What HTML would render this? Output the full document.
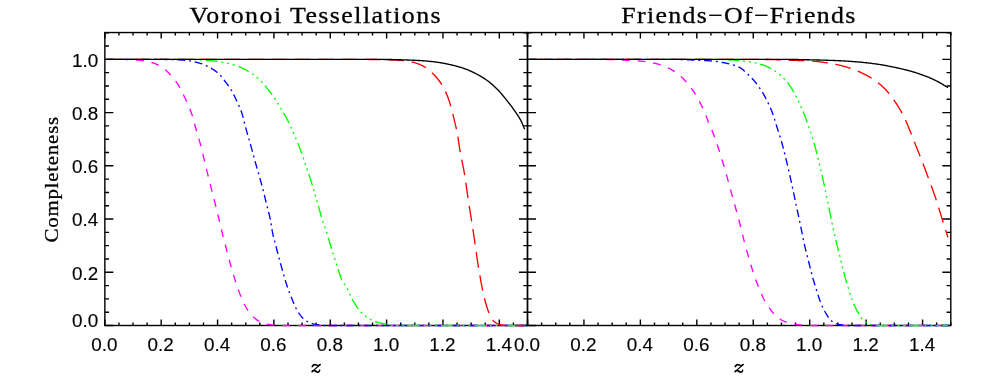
<!DOCTYPE html>
<html><head><meta charset="utf-8"><title>Completeness</title>
<style>
html,body{margin:0;padding:0;background:#fff;}
body{width:981px;height:392px;overflow:hidden;}
svg{display:block;}
text{font-family:"Liberation Serif",serif;fill:#000;stroke:#000;stroke-width:0.3px;}
text.n{font-family:"Liberation Sans",sans-serif;stroke-width:0.15px;}
</style></head><body>
<svg width="981" height="392" viewBox="0 0 981 392">
<rect width="981" height="392" fill="#fff"/>
<rect x="104.85" y="32.55" width="422.65" height="292.95" fill="none" stroke="#000" stroke-width="1.4"/>
<path d="M104.85,325.50v-6.0M104.85,32.55v6.0M118.94,325.50v-3.0M118.94,32.55v3.0M133.03,325.50v-3.0M133.03,32.55v3.0M147.12,325.50v-3.0M147.12,32.55v3.0M161.20,325.50v-6.0M161.20,32.55v6.0M175.29,325.50v-3.0M175.29,32.55v3.0M189.38,325.50v-3.0M189.38,32.55v3.0M203.47,325.50v-3.0M203.47,32.55v3.0M217.56,325.50v-6.0M217.56,32.55v6.0M231.64,325.50v-3.0M231.64,32.55v3.0M245.73,325.50v-3.0M245.73,32.55v3.0M259.82,325.50v-3.0M259.82,32.55v3.0M273.91,325.50v-6.0M273.91,32.55v6.0M288.00,325.50v-3.0M288.00,32.55v3.0M302.09,325.50v-3.0M302.09,32.55v3.0M316.17,325.50v-3.0M316.17,32.55v3.0M330.26,325.50v-6.0M330.26,32.55v6.0M344.35,325.50v-3.0M344.35,32.55v3.0M358.44,325.50v-3.0M358.44,32.55v3.0M372.53,325.50v-3.0M372.53,32.55v3.0M386.62,325.50v-6.0M386.62,32.55v6.0M400.71,325.50v-3.0M400.71,32.55v3.0M414.79,325.50v-3.0M414.79,32.55v3.0M428.88,325.50v-3.0M428.88,32.55v3.0M442.97,325.50v-6.0M442.97,32.55v6.0M457.06,325.50v-3.0M457.06,32.55v3.0M471.15,325.50v-3.0M471.15,32.55v3.0M485.24,325.50v-3.0M485.24,32.55v3.0M499.32,325.50v-6.0M499.32,32.55v6.0M513.41,325.50v-3.0M513.41,32.55v3.0M527.50,325.50v-3.0M527.50,32.55v3.0M104.85,325.50h8.5M527.50,325.50h-8.5M104.85,312.19h4.2M527.50,312.19h-4.2M104.85,298.88h4.2M527.50,298.88h-4.2M104.85,285.58h4.2M527.50,285.58h-4.2M104.85,272.27h8.5M527.50,272.27h-8.5M104.85,258.96h4.2M527.50,258.96h-4.2M104.85,245.66h4.2M527.50,245.66h-4.2M104.85,232.35h4.2M527.50,232.35h-4.2M104.85,219.04h8.5M527.50,219.04h-8.5M104.85,205.73h4.2M527.50,205.73h-4.2M104.85,192.43h4.2M527.50,192.43h-4.2M104.85,179.12h4.2M527.50,179.12h-4.2M104.85,165.81h8.5M527.50,165.81h-8.5M104.85,152.50h4.2M527.50,152.50h-4.2M104.85,139.19h4.2M527.50,139.19h-4.2M104.85,125.89h4.2M527.50,125.89h-4.2M104.85,112.58h8.5M527.50,112.58h-8.5M104.85,99.27h4.2M527.50,99.27h-4.2M104.85,85.97h4.2M527.50,85.97h-4.2M104.85,72.66h4.2M527.50,72.66h-4.2M104.85,59.35h8.5M527.50,59.35h-8.5M104.85,46.04h4.2M527.50,46.04h-4.2M104.85,32.74h4.2M527.50,32.74h-4.2" stroke="#000" stroke-width="1.4" fill="none"/>
<path d="M104.85,59.35 L105.55,59.35 L106.25,59.35 L106.95,59.35 L107.65,59.35 L108.35,59.35 L109.06,59.35 L109.76,59.36 L110.46,59.36 L111.16,59.36 L111.86,59.36 L112.56,59.36 L113.26,59.37 L113.96,59.37 L114.66,59.37 L115.36,59.38 L116.06,59.38 L116.77,59.38 L117.47,59.39 L118.17,59.39 L118.87,59.40 L119.57,59.40 L120.27,59.41 L120.97,59.41 L121.67,59.42 L122.37,59.42 L123.07,59.43 L123.77,59.44 L124.47,59.44 L125.18,59.45 L125.88,59.46 L126.58,59.47 L127.28,59.49 L127.98,59.51 L128.68,59.54 L129.38,59.57 L130.08,59.60 L130.78,59.63 L131.48,59.67 L132.18,59.71 L132.89,59.75 L133.59,59.80 L134.29,59.84 L134.99,59.89 L135.69,59.94 L136.39,60.00 L137.09,60.05 L137.79,60.10 L138.49,60.16 L139.19,60.23 L139.89,60.31 L140.60,60.39 L141.30,60.48 L142.00,60.57 L142.70,60.68 L143.40,60.79 L144.10,60.90 L144.80,61.02 L145.50,61.15 L146.20,61.28 L146.90,61.43 L147.60,61.57 L148.31,61.72 L149.01,61.88 L149.71,62.05 L150.41,62.22 L151.11,62.39 L151.81,62.57 L152.51,62.76 L153.21,62.96 L153.91,63.19 L154.61,63.44 L155.31,63.72 L156.01,64.02 L156.72,64.34 L157.42,64.68 L158.12,65.04 L158.82,65.41 L159.52,65.80 L160.22,66.21 L160.92,66.63 L161.62,67.06 L162.32,67.51 L163.02,67.97 L163.72,68.49 L164.43,69.05 L165.13,69.65 L165.83,70.28 L166.53,70.95 L167.23,71.63 L167.93,72.34 L168.63,73.07 L169.33,73.80 L170.03,74.53 L170.73,75.28 L171.43,76.04 L172.14,76.82 L172.84,77.62 L173.54,78.45 L174.24,79.30 L174.94,80.19 L175.64,81.11 L176.34,82.07 L177.04,83.07 L177.74,84.12 L178.44,85.25 L179.14,86.46 L179.85,87.74 L180.55,89.07 L181.25,90.45 L181.95,91.85 L182.65,93.27 L183.35,94.69 L184.05,96.10 L184.75,97.52 L185.45,98.96 L186.15,100.43 L186.85,101.93 L187.55,103.48 L188.26,105.08 L188.96,106.75 L189.66,108.46 L190.36,110.23 L191.06,112.09 L191.76,114.05 L192.46,116.13 L193.16,118.42 L193.86,120.95 L194.56,123.59 L195.26,126.23 L195.97,128.76 L196.67,131.20 L197.37,133.60 L198.07,135.99 L198.77,138.38 L199.47,140.83 L200.17,143.34 L200.87,145.96 L201.57,148.71 L202.27,151.57 L202.97,154.49 L203.68,157.45 L204.38,160.41 L205.08,163.32 L205.78,166.22 L206.48,169.13 L207.18,172.04 L207.88,174.93 L208.58,177.80 L209.28,180.63 L209.98,183.40 L210.68,186.13 L211.39,188.84 L212.09,191.53 L212.79,194.24 L213.49,196.97 L214.19,199.73 L214.89,202.50 L215.59,205.28 L216.29,208.09 L216.99,210.92 L217.69,213.80 L218.39,216.74 L219.09,219.74 L219.80,222.77 L220.50,225.77 L221.20,228.73 L221.90,231.60 L222.60,234.41 L223.30,237.16 L224.00,239.89 L224.70,242.58 L225.40,245.27 L226.10,247.94 L226.80,250.62 L227.51,253.32 L228.21,256.01 L228.91,258.68 L229.61,261.32 L230.31,263.90 L231.01,266.41 L231.71,268.85 L232.41,271.24 L233.11,273.59 L233.81,275.90 L234.51,278.15 L235.22,280.35 L235.92,282.50 L236.62,284.59 L237.32,286.66 L238.02,288.70 L238.72,290.70 L239.42,292.63 L240.12,294.48 L240.82,296.23 L241.52,297.88 L242.22,299.49 L242.93,301.06 L243.63,302.58 L244.33,304.05 L245.03,305.45 L245.73,306.78 L246.43,308.03 L247.13,309.18 L247.83,310.24 L248.53,311.25 L249.23,312.21 L249.93,313.12 L250.63,313.98 L251.34,314.80 L252.04,315.57 L252.74,316.29 L253.44,316.96 L254.14,317.60 L254.84,318.21 L255.54,318.80 L256.24,319.37 L256.94,319.90 L257.64,320.40 L258.34,320.86 L259.05,321.27 L259.75,321.63 L260.45,321.95 L261.15,322.25 L261.85,322.53 L262.55,322.81 L263.25,323.06 L263.95,323.30 L264.65,323.52 L265.35,323.72 L266.05,323.91 L266.76,324.07 L267.46,324.21 L268.16,324.32 L268.86,324.43 L269.56,324.54 L270.26,324.65 L270.96,324.75 L271.66,324.85 L272.36,324.94 L273.06,325.03 L273.76,325.11 L274.47,325.19 L275.17,325.26 L275.87,325.32 L276.57,325.37 L277.27,325.42 L277.97,325.45 L278.67,325.48 L279.37,325.50 L280.07,325.50 L280.77,325.50 L281.47,325.50 L282.17,325.50 L282.88,325.50 L283.58,325.50 L284.28,325.50 L284.98,325.50 L285.68,325.50 L286.38,325.50 L287.08,325.50 L287.78,325.50 L288.48,325.50 L289.18,325.50 L289.88,325.50 L290.59,325.50 L291.29,325.50 L291.99,325.50 L292.69,325.50 L293.39,325.50 L294.09,325.50 L294.79,325.50 L295.49,325.50 L296.19,325.50 L296.89,325.50 L297.59,325.50 L298.30,325.50 L299.00,325.50 L299.70,325.50 L300.40,325.50 L301.10,325.50 L301.80,325.50 L302.50,325.50 L303.20,325.50 L303.90,325.50 L304.60,325.50 L305.30,325.50 L306.01,325.50 L306.71,325.50 L307.41,325.50 L308.11,325.50 L308.81,325.50 L309.51,325.50 L310.21,325.50 L310.91,325.50 L311.61,325.50 L312.31,325.50 L313.01,325.50 L313.71,325.50 L314.42,325.50 L315.12,325.50 L315.82,325.50 L316.52,325.50 L317.22,325.50 L317.92,325.50 L318.62,325.50 L319.32,325.50 L320.02,325.50 L320.72,325.50 L321.42,325.50 L322.13,325.50 L322.83,325.50 L323.53,325.50 L324.23,325.50 L324.93,325.50 L325.63,325.50 L326.33,325.50 L327.03,325.50 L327.73,325.50 L328.43,325.50 L329.13,325.50 L329.84,325.50 L330.54,325.50 L331.24,325.50 L331.94,325.50 L332.64,325.50 L333.34,325.50 L334.04,325.50 L334.74,325.50 L335.44,325.50 L336.14,325.50 L336.84,325.50 L337.55,325.50 L338.25,325.50 L338.95,325.50 L339.65,325.50 L340.35,325.50 L341.05,325.50 L341.75,325.50 L342.45,325.50 L343.15,325.50 L343.85,325.50 L344.55,325.50 L345.25,325.50 L345.96,325.50 L346.66,325.50 L347.36,325.50 L348.06,325.50 L348.76,325.50 L349.46,325.50 L350.16,325.50 L350.86,325.50 L351.56,325.50 L352.26,325.50 L352.96,325.50 L353.67,325.50 L354.37,325.50 L355.07,325.50 L355.77,325.50 L356.47,325.50 L357.17,325.50 L357.87,325.50 L358.57,325.50 L359.27,325.50 L359.97,325.50 L360.67,325.50 L361.38,325.50 L362.08,325.50 L362.78,325.50 L363.48,325.50 L364.18,325.50 L364.88,325.50 L365.58,325.50 L366.28,325.50 L366.98,325.50 L367.68,325.50 L368.38,325.50 L369.09,325.50 L369.79,325.50 L370.49,325.50 L371.19,325.50 L371.89,325.50 L372.59,325.50 L373.29,325.50 L373.99,325.50 L374.69,325.50 L375.39,325.50 L376.09,325.50 L376.79,325.50 L377.50,325.50 L378.20,325.50 L378.90,325.50 L379.60,325.50 L380.30,325.50 L381.00,325.50 L381.70,325.50 L382.40,325.50 L383.10,325.50 L383.80,325.50 L384.50,325.50 L385.21,325.50 L385.91,325.50 L386.61,325.50 L387.31,325.50 L388.01,325.50 L388.71,325.50 L389.41,325.50 L390.11,325.50 L390.81,325.50 L391.51,325.50 L392.21,325.50 L392.92,325.50 L393.62,325.50 L394.32,325.50 L395.02,325.50 L395.72,325.50 L396.42,325.50 L397.12,325.50 L397.82,325.50 L398.52,325.50 L399.22,325.50 L399.92,325.50 L400.63,325.50 L401.33,325.50 L402.03,325.50 L402.73,325.50 L403.43,325.50 L404.13,325.50 L404.83,325.50 L405.53,325.50 L406.23,325.50 L406.93,325.50 L407.63,325.50 L408.33,325.50 L409.04,325.50 L409.74,325.50 L410.44,325.50 L411.14,325.50 L411.84,325.50 L412.54,325.50 L413.24,325.50 L413.94,325.50 L414.64,325.50 L415.34,325.50 L416.04,325.50 L416.75,325.50 L417.45,325.50 L418.15,325.50 L418.85,325.50 L419.55,325.50 L420.25,325.50 L420.95,325.50 L421.65,325.50 L422.35,325.50 L423.05,325.50 L423.75,325.50 L424.46,325.50 L425.16,325.50 L425.86,325.50 L426.56,325.50 L427.26,325.50 L427.96,325.50 L428.66,325.50 L429.36,325.50 L430.06,325.50 L430.76,325.50 L431.46,325.50 L432.17,325.50 L432.87,325.50 L433.57,325.50 L434.27,325.50 L434.97,325.50 L435.67,325.50 L436.37,325.50 L437.07,325.50 L437.77,325.50 L438.47,325.50 L439.17,325.50 L439.87,325.50 L440.58,325.50 L441.28,325.50 L441.98,325.50 L442.68,325.50 L443.38,325.50 L444.08,325.50 L444.78,325.50 L445.48,325.50 L446.18,325.50 L446.88,325.50 L447.58,325.50 L448.29,325.50 L448.99,325.50 L449.69,325.50 L450.39,325.50 L451.09,325.50 L451.79,325.50 L452.49,325.50 L453.19,325.50 L453.89,325.50 L454.59,325.50 L455.29,325.50 L456.00,325.50 L456.70,325.50 L457.40,325.50 L458.10,325.50 L458.80,325.50 L459.50,325.50 L460.20,325.50 L460.90,325.50 L461.60,325.50 L462.30,325.50 L463.00,325.50 L463.71,325.50 L464.41,325.50 L465.11,325.50 L465.81,325.50 L466.51,325.50 L467.21,325.50 L467.91,325.50 L468.61,325.50 L469.31,325.50 L470.01,325.50 L470.71,325.50 L471.41,325.50 L472.12,325.50 L472.82,325.50 L473.52,325.50 L474.22,325.50 L474.92,325.50 L475.62,325.50 L476.32,325.50 L477.02,325.50 L477.72,325.50 L478.42,325.50 L479.12,325.50 L479.83,325.50 L480.53,325.50 L481.23,325.50 L481.93,325.50 L482.63,325.50 L483.33,325.50 L484.03,325.50 L484.73,325.50 L485.43,325.50 L486.13,325.50 L486.83,325.50 L487.54,325.50 L488.24,325.50 L488.94,325.50 L489.64,325.50 L490.34,325.50 L491.04,325.50 L491.74,325.50 L492.44,325.50 L493.14,325.50 L493.84,325.50 L494.54,325.50 L495.25,325.50 L495.95,325.50 L496.65,325.50 L497.35,325.50 L498.05,325.50 L498.75,325.50 L499.45,325.50 L500.15,325.50 L500.85,325.50 L501.55,325.50 L502.25,325.50 L502.95,325.50 L503.66,325.50 L504.36,325.50 L505.06,325.50 L505.76,325.50 L506.46,325.50 L507.16,325.50 L507.86,325.50 L508.56,325.50 L509.26,325.50 L509.96,325.50 L510.66,325.50 L511.37,325.50 L512.07,325.50 L512.77,325.50 L513.47,325.50 L514.17,325.50 L514.87,325.50 L515.57,325.50 L516.27,325.50 L516.97,325.50 L517.67,325.50 L518.37,325.50 L519.08,325.50 L519.78,325.50 L520.48,325.50 L521.18,325.50 L521.88,325.50 L522.58,325.50 L523.28,325.50 L523.98,325.50 L524.68,325.50" fill="none" stroke="#ff00ff" stroke-width="1.35" stroke-dasharray="7.8 7.8" stroke-dashoffset="0"/>
<path d="M104.85,59.35 L105.55,59.35 L106.25,59.35 L106.95,59.35 L107.65,59.35 L108.35,59.35 L109.06,59.35 L109.76,59.35 L110.46,59.35 L111.16,59.35 L111.86,59.35 L112.56,59.35 L113.26,59.35 L113.96,59.35 L114.66,59.35 L115.36,59.35 L116.06,59.35 L116.77,59.35 L117.47,59.35 L118.17,59.35 L118.87,59.35 L119.57,59.35 L120.27,59.35 L120.97,59.36 L121.67,59.36 L122.37,59.36 L123.07,59.36 L123.77,59.36 L124.47,59.36 L125.18,59.36 L125.88,59.36 L126.58,59.36 L127.28,59.36 L127.98,59.36 L128.68,59.36 L129.38,59.36 L130.08,59.36 L130.78,59.37 L131.48,59.37 L132.18,59.37 L132.89,59.37 L133.59,59.37 L134.29,59.37 L134.99,59.37 L135.69,59.37 L136.39,59.37 L137.09,59.37 L137.79,59.38 L138.49,59.38 L139.19,59.38 L139.89,59.38 L140.60,59.38 L141.30,59.38 L142.00,59.38 L142.70,59.38 L143.40,59.39 L144.10,59.39 L144.80,59.39 L145.50,59.39 L146.20,59.39 L146.90,59.39 L147.60,59.39 L148.31,59.40 L149.01,59.40 L149.71,59.40 L150.41,59.40 L151.11,59.40 L151.81,59.41 L152.51,59.41 L153.21,59.41 L153.91,59.41 L154.61,59.41 L155.31,59.42 L156.01,59.42 L156.72,59.42 L157.42,59.42 L158.12,59.42 L158.82,59.43 L159.52,59.43 L160.22,59.43 L160.92,59.43 L161.62,59.44 L162.32,59.44 L163.02,59.44 L163.72,59.44 L164.43,59.45 L165.13,59.45 L165.83,59.45 L166.53,59.46 L167.23,59.47 L167.93,59.48 L168.63,59.49 L169.33,59.50 L170.03,59.52 L170.73,59.54 L171.43,59.56 L172.14,59.58 L172.84,59.61 L173.54,59.63 L174.24,59.66 L174.94,59.69 L175.64,59.72 L176.34,59.75 L177.04,59.78 L177.74,59.82 L178.44,59.85 L179.14,59.89 L179.85,59.93 L180.55,59.97 L181.25,60.01 L181.95,60.05 L182.65,60.09 L183.35,60.14 L184.05,60.19 L184.75,60.26 L185.45,60.33 L186.15,60.41 L186.85,60.50 L187.55,60.60 L188.26,60.70 L188.96,60.81 L189.66,60.92 L190.36,61.05 L191.06,61.18 L191.76,61.31 L192.46,61.45 L193.16,61.59 L193.86,61.74 L194.56,61.90 L195.26,62.06 L195.97,62.22 L196.67,62.39 L197.37,62.56 L198.07,62.74 L198.77,62.92 L199.47,63.10 L200.17,63.29 L200.87,63.49 L201.57,63.72 L202.27,63.96 L202.97,64.23 L203.68,64.51 L204.38,64.81 L205.08,65.12 L205.78,65.45 L206.48,65.79 L207.18,66.14 L207.88,66.50 L208.58,66.86 L209.28,67.23 L209.98,67.61 L210.68,68.00 L211.39,68.40 L212.09,68.82 L212.79,69.25 L213.49,69.70 L214.19,70.17 L214.89,70.66 L215.59,71.17 L216.29,71.70 L216.99,72.25 L217.69,72.83 L218.39,73.43 L219.09,74.07 L219.80,74.77 L220.50,75.54 L221.20,76.36 L221.90,77.22 L222.60,78.11 L223.30,79.03 L224.00,79.95 L224.70,80.86 L225.40,81.77 L226.10,82.67 L226.80,83.58 L227.51,84.51 L228.21,85.45 L228.91,86.42 L229.61,87.44 L230.31,88.49 L231.01,89.61 L231.71,90.79 L232.41,92.06 L233.11,93.42 L233.81,94.84 L234.51,96.31 L235.22,97.80 L235.92,99.29 L236.62,100.77 L237.32,102.21 L238.02,103.65 L238.72,105.12 L239.42,106.66 L240.12,108.30 L240.82,110.08 L241.52,112.05 L242.22,114.35 L242.93,116.93 L243.63,119.68 L244.33,122.50 L245.03,125.28 L245.73,127.92 L246.43,130.43 L247.13,132.89 L247.83,135.33 L248.53,137.75 L249.23,140.18 L249.93,142.62 L250.63,145.09 L251.34,147.60 L252.04,150.14 L252.74,152.70 L253.44,155.27 L254.14,157.85 L254.84,160.41 L255.54,162.95 L256.24,165.47 L256.94,167.94 L257.64,170.36 L258.34,172.76 L259.05,175.16 L259.75,177.59 L260.45,180.07 L261.15,182.62 L261.85,185.26 L262.55,187.98 L263.25,190.75 L263.95,193.57 L264.65,196.43 L265.35,199.31 L266.05,202.19 L266.76,205.03 L267.46,207.70 L268.16,210.33 L268.86,213.02 L269.56,215.90 L270.26,219.06 L270.96,222.63 L271.66,227.31 L272.36,231.71 L273.06,235.08 L273.76,238.02 L274.47,240.68 L275.17,243.21 L275.87,245.78 L276.57,248.49 L277.27,251.21 L277.97,253.88 L278.67,256.52 L279.37,259.13 L280.07,261.71 L280.77,264.27 L281.47,266.81 L282.17,269.37 L282.88,271.93 L283.58,274.47 L284.28,276.96 L284.98,279.38 L285.68,281.70 L286.38,283.90 L287.08,286.01 L287.78,288.05 L288.48,290.03 L289.18,291.94 L289.88,293.80 L290.59,295.60 L291.29,297.34 L291.99,299.06 L292.69,300.78 L293.39,302.47 L294.09,304.12 L294.79,305.71 L295.49,307.23 L296.19,308.65 L296.89,309.97 L297.59,311.15 L298.30,312.26 L299.00,313.32 L299.70,314.34 L300.40,315.30 L301.10,316.20 L301.80,317.04 L302.50,317.81 L303.20,318.51 L303.90,319.13 L304.60,319.70 L305.30,320.23 L306.01,320.73 L306.71,321.18 L307.41,321.59 L308.11,321.95 L308.81,322.28 L309.51,322.57 L310.21,322.85 L310.91,323.12 L311.61,323.37 L312.31,323.60 L313.01,323.82 L313.71,324.02 L314.42,324.19 L315.12,324.34 L315.82,324.47 L316.52,324.58 L317.22,324.69 L317.92,324.79 L318.62,324.89 L319.32,324.99 L320.02,325.08 L320.72,325.16 L321.42,325.24 L322.13,325.31 L322.83,325.37 L323.53,325.42 L324.23,325.46 L324.93,325.48 L325.63,325.50 L326.33,325.50 L327.03,325.50 L327.73,325.50 L328.43,325.50 L329.13,325.50 L329.84,325.50 L330.54,325.50 L331.24,325.50 L331.94,325.50 L332.64,325.50 L333.34,325.50 L334.04,325.50 L334.74,325.50 L335.44,325.50 L336.14,325.50 L336.84,325.50 L337.55,325.50 L338.25,325.50 L338.95,325.50 L339.65,325.50 L340.35,325.50 L341.05,325.50 L341.75,325.50 L342.45,325.50 L343.15,325.50 L343.85,325.50 L344.55,325.50 L345.25,325.50 L345.96,325.50 L346.66,325.50 L347.36,325.50 L348.06,325.50 L348.76,325.50 L349.46,325.50 L350.16,325.50 L350.86,325.50 L351.56,325.50 L352.26,325.50 L352.96,325.50 L353.67,325.50 L354.37,325.50 L355.07,325.50 L355.77,325.50 L356.47,325.50 L357.17,325.50 L357.87,325.50 L358.57,325.50 L359.27,325.50 L359.97,325.50 L360.67,325.50 L361.38,325.50 L362.08,325.50 L362.78,325.50 L363.48,325.50 L364.18,325.50 L364.88,325.50 L365.58,325.50 L366.28,325.50 L366.98,325.50 L367.68,325.50 L368.38,325.50 L369.09,325.50 L369.79,325.50 L370.49,325.50 L371.19,325.50 L371.89,325.50 L372.59,325.50 L373.29,325.50 L373.99,325.50 L374.69,325.50 L375.39,325.50 L376.09,325.50 L376.79,325.50 L377.50,325.50 L378.20,325.50 L378.90,325.50 L379.60,325.50 L380.30,325.50 L381.00,325.50 L381.70,325.50 L382.40,325.50 L383.10,325.50 L383.80,325.50 L384.50,325.50 L385.21,325.50 L385.91,325.50 L386.61,325.50 L387.31,325.50 L388.01,325.50 L388.71,325.50 L389.41,325.50 L390.11,325.50 L390.81,325.50 L391.51,325.50 L392.21,325.50 L392.92,325.50 L393.62,325.50 L394.32,325.50 L395.02,325.50 L395.72,325.50 L396.42,325.50 L397.12,325.50 L397.82,325.50 L398.52,325.50 L399.22,325.50 L399.92,325.50 L400.63,325.50 L401.33,325.50 L402.03,325.50 L402.73,325.50 L403.43,325.50 L404.13,325.50 L404.83,325.50 L405.53,325.50 L406.23,325.50 L406.93,325.50 L407.63,325.50 L408.33,325.50 L409.04,325.50 L409.74,325.50 L410.44,325.50 L411.14,325.50 L411.84,325.50 L412.54,325.50 L413.24,325.50 L413.94,325.50 L414.64,325.50 L415.34,325.50 L416.04,325.50 L416.75,325.50 L417.45,325.50 L418.15,325.50 L418.85,325.50 L419.55,325.50 L420.25,325.50 L420.95,325.50 L421.65,325.50 L422.35,325.50 L423.05,325.50 L423.75,325.50 L424.46,325.50 L425.16,325.50 L425.86,325.50 L426.56,325.50 L427.26,325.50 L427.96,325.50 L428.66,325.50 L429.36,325.50 L430.06,325.50 L430.76,325.50 L431.46,325.50 L432.17,325.50 L432.87,325.50 L433.57,325.50 L434.27,325.50 L434.97,325.50 L435.67,325.50 L436.37,325.50 L437.07,325.50 L437.77,325.50 L438.47,325.50 L439.17,325.50 L439.87,325.50 L440.58,325.50 L441.28,325.50 L441.98,325.50 L442.68,325.50 L443.38,325.50 L444.08,325.50 L444.78,325.50 L445.48,325.50 L446.18,325.50 L446.88,325.50 L447.58,325.50 L448.29,325.50 L448.99,325.50 L449.69,325.50 L450.39,325.50 L451.09,325.50 L451.79,325.50 L452.49,325.50 L453.19,325.50 L453.89,325.50 L454.59,325.50 L455.29,325.50 L456.00,325.50 L456.70,325.50 L457.40,325.50 L458.10,325.50 L458.80,325.50 L459.50,325.50 L460.20,325.50 L460.90,325.50 L461.60,325.50 L462.30,325.50 L463.00,325.50 L463.71,325.50 L464.41,325.50 L465.11,325.50 L465.81,325.50 L466.51,325.50 L467.21,325.50 L467.91,325.50 L468.61,325.50 L469.31,325.50 L470.01,325.50 L470.71,325.50 L471.41,325.50 L472.12,325.50 L472.82,325.50 L473.52,325.50 L474.22,325.50 L474.92,325.50 L475.62,325.50 L476.32,325.50 L477.02,325.50 L477.72,325.50 L478.42,325.50 L479.12,325.50 L479.83,325.50 L480.53,325.50 L481.23,325.50 L481.93,325.50 L482.63,325.50 L483.33,325.50 L484.03,325.50 L484.73,325.50 L485.43,325.50 L486.13,325.50 L486.83,325.50 L487.54,325.50 L488.24,325.50 L488.94,325.50 L489.64,325.50 L490.34,325.50 L491.04,325.50 L491.74,325.50 L492.44,325.50 L493.14,325.50 L493.84,325.50 L494.54,325.50 L495.25,325.50 L495.95,325.50 L496.65,325.50 L497.35,325.50 L498.05,325.50 L498.75,325.50 L499.45,325.50 L500.15,325.50 L500.85,325.50 L501.55,325.50 L502.25,325.50 L502.95,325.50 L503.66,325.50 L504.36,325.50 L505.06,325.50 L505.76,325.50 L506.46,325.50 L507.16,325.50 L507.86,325.50 L508.56,325.50 L509.26,325.50 L509.96,325.50 L510.66,325.50 L511.37,325.50 L512.07,325.50 L512.77,325.50 L513.47,325.50 L514.17,325.50 L514.87,325.50 L515.57,325.50 L516.27,325.50 L516.97,325.50 L517.67,325.50 L518.37,325.50 L519.08,325.50 L519.78,325.50 L520.48,325.50 L521.18,325.50 L521.88,325.50 L522.58,325.50 L523.28,325.50 L523.98,325.50 L524.68,325.50" fill="none" stroke="#0000ff" stroke-width="1.35" stroke-dasharray="7.8 3.9 1.95 3.9" stroke-dashoffset="-2.3"/>
<path d="M104.85,59.35 L105.55,59.35 L106.25,59.35 L106.95,59.35 L107.65,59.35 L108.35,59.35 L109.06,59.35 L109.76,59.35 L110.46,59.35 L111.16,59.35 L111.86,59.35 L112.56,59.35 L113.26,59.35 L113.96,59.35 L114.66,59.35 L115.36,59.35 L116.06,59.35 L116.77,59.35 L117.47,59.35 L118.17,59.35 L118.87,59.35 L119.57,59.35 L120.27,59.35 L120.97,59.35 L121.67,59.35 L122.37,59.35 L123.07,59.35 L123.77,59.35 L124.47,59.35 L125.18,59.35 L125.88,59.35 L126.58,59.35 L127.28,59.35 L127.98,59.35 L128.68,59.36 L129.38,59.36 L130.08,59.36 L130.78,59.36 L131.48,59.36 L132.18,59.36 L132.89,59.36 L133.59,59.36 L134.29,59.36 L134.99,59.36 L135.69,59.36 L136.39,59.36 L137.09,59.36 L137.79,59.36 L138.49,59.36 L139.19,59.36 L139.89,59.36 L140.60,59.36 L141.30,59.36 L142.00,59.36 L142.70,59.36 L143.40,59.36 L144.10,59.37 L144.80,59.37 L145.50,59.37 L146.20,59.37 L146.90,59.37 L147.60,59.37 L148.31,59.37 L149.01,59.37 L149.71,59.37 L150.41,59.37 L151.11,59.37 L151.81,59.37 L152.51,59.37 L153.21,59.37 L153.91,59.38 L154.61,59.38 L155.31,59.38 L156.01,59.38 L156.72,59.38 L157.42,59.38 L158.12,59.38 L158.82,59.38 L159.52,59.38 L160.22,59.38 L160.92,59.39 L161.62,59.39 L162.32,59.39 L163.02,59.39 L163.72,59.39 L164.43,59.39 L165.13,59.39 L165.83,59.39 L166.53,59.39 L167.23,59.40 L167.93,59.40 L168.63,59.40 L169.33,59.40 L170.03,59.40 L170.73,59.40 L171.43,59.40 L172.14,59.40 L172.84,59.41 L173.54,59.41 L174.24,59.41 L174.94,59.41 L175.64,59.41 L176.34,59.41 L177.04,59.41 L177.74,59.42 L178.44,59.42 L179.14,59.42 L179.85,59.42 L180.55,59.42 L181.25,59.42 L181.95,59.43 L182.65,59.43 L183.35,59.43 L184.05,59.43 L184.75,59.43 L185.45,59.43 L186.15,59.44 L186.85,59.44 L187.55,59.44 L188.26,59.44 L188.96,59.44 L189.66,59.45 L190.36,59.45 L191.06,59.45 L191.76,59.46 L192.46,59.48 L193.16,59.49 L193.86,59.51 L194.56,59.54 L195.26,59.56 L195.97,59.59 L196.67,59.62 L197.37,59.66 L198.07,59.69 L198.77,59.73 L199.47,59.77 L200.17,59.81 L200.87,59.86 L201.57,59.90 L202.27,59.95 L202.97,60.00 L203.68,60.05 L204.38,60.10 L205.08,60.15 L205.78,60.20 L206.48,60.25 L207.18,60.30 L207.88,60.35 L208.58,60.41 L209.28,60.47 L209.98,60.53 L210.68,60.60 L211.39,60.68 L212.09,60.75 L212.79,60.83 L213.49,60.92 L214.19,61.01 L214.89,61.10 L215.59,61.19 L216.29,61.29 L216.99,61.39 L217.69,61.50 L218.39,61.61 L219.09,61.72 L219.80,61.83 L220.50,61.95 L221.20,62.07 L221.90,62.19 L222.60,62.31 L223.30,62.44 L224.00,62.57 L224.70,62.70 L225.40,62.83 L226.10,62.97 L226.80,63.12 L227.51,63.28 L228.21,63.44 L228.91,63.61 L229.61,63.78 L230.31,63.97 L231.01,64.15 L231.71,64.35 L232.41,64.55 L233.11,64.76 L233.81,64.98 L234.51,65.20 L235.22,65.42 L235.92,65.66 L236.62,65.90 L237.32,66.14 L238.02,66.39 L238.72,66.65 L239.42,66.91 L240.12,67.18 L240.82,67.47 L241.52,67.77 L242.22,68.09 L242.93,68.43 L243.63,68.78 L244.33,69.15 L245.03,69.53 L245.73,69.93 L246.43,70.33 L247.13,70.74 L247.83,71.16 L248.53,71.59 L249.23,72.02 L249.93,72.46 L250.63,72.90 L251.34,73.35 L252.04,73.81 L252.74,74.28 L253.44,74.76 L254.14,75.25 L254.84,75.76 L255.54,76.28 L256.24,76.82 L256.94,77.37 L257.64,77.94 L258.34,78.53 L259.05,79.14 L259.75,79.77 L260.45,80.42 L261.15,81.13 L261.85,81.87 L262.55,82.66 L263.25,83.48 L263.95,84.32 L264.65,85.18 L265.35,86.05 L266.05,86.94 L266.76,87.82 L267.46,88.70 L268.16,89.57 L268.86,90.45 L269.56,91.34 L270.26,92.24 L270.96,93.15 L271.66,94.07 L272.36,95.02 L273.06,95.98 L273.76,96.96 L274.47,97.97 L275.17,99.00 L275.87,100.07 L276.57,101.17 L277.27,102.31 L277.97,103.47 L278.67,104.65 L279.37,105.85 L280.07,107.06 L280.77,108.27 L281.47,109.48 L282.17,110.69 L282.88,111.89 L283.58,113.07 L284.28,114.26 L284.98,115.45 L285.68,116.66 L286.38,117.91 L287.08,119.20 L287.78,120.55 L288.48,121.97 L289.18,123.45 L289.88,124.98 L290.59,126.52 L291.29,128.08 L291.99,129.64 L292.69,131.20 L293.39,132.77 L294.09,134.35 L294.79,135.95 L295.49,137.58 L296.19,139.22 L296.89,140.90 L297.59,142.60 L298.30,144.35 L299.00,146.13 L299.70,147.97 L300.40,149.86 L301.10,151.80 L301.80,153.77 L302.50,155.77 L303.20,157.78 L303.90,159.82 L304.60,161.85 L305.30,163.88 L306.01,165.92 L306.71,167.96 L307.41,170.02 L308.11,172.10 L308.81,174.20 L309.51,176.32 L310.21,178.48 L310.91,180.68 L311.61,182.91 L312.31,185.21 L313.01,187.56 L313.71,189.94 L314.42,192.35 L315.12,194.78 L315.82,197.21 L316.52,199.64 L317.22,202.04 L317.92,204.44 L318.62,206.88 L319.32,209.35 L320.02,211.83 L320.72,214.28 L321.42,216.68 L322.13,219.00 L322.83,221.22 L323.53,223.29 L324.23,225.15 L324.93,227.04 L325.63,229.14 L326.33,231.34 L327.03,233.63 L327.73,235.96 L328.43,238.31 L329.13,240.66 L329.84,242.97 L330.54,245.24 L331.24,247.53 L331.94,249.84 L332.64,252.15 L333.34,254.44 L334.04,256.70 L334.74,258.93 L335.44,261.09 L336.14,263.19 L336.84,265.27 L337.55,267.43 L338.25,269.62 L338.95,271.81 L339.65,273.96 L340.35,276.02 L341.05,277.95 L341.75,279.72 L342.45,281.29 L343.15,282.60 L343.85,283.63 L344.55,284.29 L345.25,285.08 L345.96,286.14 L346.66,287.38 L347.36,288.76 L348.06,290.26 L348.76,291.82 L349.46,293.42 L350.16,295.00 L350.86,296.55 L351.56,298.00 L352.26,299.34 L352.96,300.55 L353.67,301.74 L354.37,302.92 L355.07,304.07 L355.77,305.20 L356.47,306.29 L357.17,307.34 L357.87,308.34 L358.57,309.28 L359.27,310.16 L359.97,310.97 L360.67,311.73 L361.38,312.47 L362.08,313.18 L362.78,313.86 L363.48,314.52 L364.18,315.16 L364.88,315.76 L365.58,316.33 L366.28,316.87 L366.98,317.38 L367.68,317.85 L368.38,318.29 L369.09,318.69 L369.79,319.07 L370.49,319.44 L371.19,319.79 L371.89,320.13 L372.59,320.45 L373.29,320.75 L373.99,321.04 L374.69,321.32 L375.39,321.57 L376.09,321.81 L376.79,322.04 L377.50,322.25 L378.20,322.44 L378.90,322.63 L379.60,322.80 L380.30,322.96 L381.00,323.12 L381.70,323.26 L382.40,323.41 L383.10,323.54 L383.80,323.68 L384.50,323.81 L385.21,323.94 L385.91,324.08 L386.61,324.22 L387.31,324.37 L388.01,324.52 L388.71,324.67 L389.41,324.82 L390.11,324.95 L390.81,325.08 L391.51,325.20 L392.21,325.30 L392.92,325.38 L393.62,325.45 L394.32,325.49 L395.02,325.50 L395.72,325.50 L396.42,325.50 L397.12,325.50 L397.82,325.50 L398.52,325.50 L399.22,325.50 L399.92,325.50 L400.63,325.50 L401.33,325.50 L402.03,325.50 L402.73,325.50 L403.43,325.50 L404.13,325.50 L404.83,325.50 L405.53,325.50 L406.23,325.50 L406.93,325.50 L407.63,325.50 L408.33,325.50 L409.04,325.50 L409.74,325.50 L410.44,325.50 L411.14,325.50 L411.84,325.50 L412.54,325.50 L413.24,325.50 L413.94,325.50 L414.64,325.50 L415.34,325.50 L416.04,325.50 L416.75,325.50 L417.45,325.50 L418.15,325.50 L418.85,325.50 L419.55,325.50 L420.25,325.50 L420.95,325.50 L421.65,325.50 L422.35,325.50 L423.05,325.50 L423.75,325.50 L424.46,325.50 L425.16,325.50 L425.86,325.50 L426.56,325.50 L427.26,325.50 L427.96,325.50 L428.66,325.50 L429.36,325.50 L430.06,325.50 L430.76,325.50 L431.46,325.50 L432.17,325.50 L432.87,325.50 L433.57,325.50 L434.27,325.50 L434.97,325.50 L435.67,325.50 L436.37,325.50 L437.07,325.50 L437.77,325.50 L438.47,325.50 L439.17,325.50 L439.87,325.50 L440.58,325.50 L441.28,325.50 L441.98,325.50 L442.68,325.50 L443.38,325.50 L444.08,325.50 L444.78,325.50 L445.48,325.50 L446.18,325.50 L446.88,325.50 L447.58,325.50 L448.29,325.50 L448.99,325.50 L449.69,325.50 L450.39,325.50 L451.09,325.50 L451.79,325.50 L452.49,325.50 L453.19,325.50 L453.89,325.50 L454.59,325.50 L455.29,325.50 L456.00,325.50 L456.70,325.50 L457.40,325.50 L458.10,325.50 L458.80,325.50 L459.50,325.50 L460.20,325.50 L460.90,325.50 L461.60,325.50 L462.30,325.50 L463.00,325.50 L463.71,325.50 L464.41,325.50 L465.11,325.50 L465.81,325.50 L466.51,325.50 L467.21,325.50 L467.91,325.50 L468.61,325.50 L469.31,325.50 L470.01,325.50 L470.71,325.50 L471.41,325.50 L472.12,325.50 L472.82,325.50 L473.52,325.50 L474.22,325.50 L474.92,325.50 L475.62,325.50 L476.32,325.50 L477.02,325.50 L477.72,325.50 L478.42,325.50 L479.12,325.50 L479.83,325.50 L480.53,325.50 L481.23,325.50 L481.93,325.50 L482.63,325.50 L483.33,325.50 L484.03,325.50 L484.73,325.50 L485.43,325.50 L486.13,325.50 L486.83,325.50 L487.54,325.50 L488.24,325.50 L488.94,325.50 L489.64,325.50 L490.34,325.50 L491.04,325.50 L491.74,325.50 L492.44,325.50 L493.14,325.50 L493.84,325.50 L494.54,325.50 L495.25,325.50 L495.95,325.50 L496.65,325.50 L497.35,325.50 L498.05,325.50 L498.75,325.50 L499.45,325.50 L500.15,325.50 L500.85,325.50 L501.55,325.50 L502.25,325.50 L502.95,325.50 L503.66,325.50 L504.36,325.50 L505.06,325.50 L505.76,325.50 L506.46,325.50 L507.16,325.50 L507.86,325.50 L508.56,325.50 L509.26,325.50 L509.96,325.50 L510.66,325.50 L511.37,325.50 L512.07,325.50 L512.77,325.50 L513.47,325.50 L514.17,325.50 L514.87,325.50 L515.57,325.50 L516.27,325.50 L516.97,325.50 L517.67,325.50 L518.37,325.50 L519.08,325.50 L519.78,325.50 L520.48,325.50 L521.18,325.50 L521.88,325.50 L522.58,325.50 L523.28,325.50 L523.98,325.50 L524.68,325.50" fill="none" stroke="#00ff00" stroke-width="1.35" stroke-dasharray="11.7 3.9 1.95 3.9 1.95 3.9 1.95 3.9" stroke-dashoffset="-1.6"/>
<path d="M104.85,59.35 L105.55,59.35 L106.25,59.35 L106.95,59.35 L107.65,59.35 L108.35,59.35 L109.06,59.35 L109.76,59.35 L110.46,59.35 L111.16,59.35 L111.86,59.35 L112.56,59.35 L113.26,59.35 L113.96,59.35 L114.66,59.35 L115.36,59.35 L116.06,59.35 L116.77,59.35 L117.47,59.35 L118.17,59.35 L118.87,59.35 L119.57,59.35 L120.27,59.35 L120.97,59.35 L121.67,59.35 L122.37,59.35 L123.07,59.35 L123.77,59.35 L124.47,59.35 L125.18,59.35 L125.88,59.35 L126.58,59.35 L127.28,59.35 L127.98,59.35 L128.68,59.35 L129.38,59.35 L130.08,59.35 L130.78,59.35 L131.48,59.35 L132.18,59.35 L132.89,59.35 L133.59,59.35 L134.29,59.35 L134.99,59.35 L135.69,59.35 L136.39,59.35 L137.09,59.35 L137.79,59.35 L138.49,59.35 L139.19,59.35 L139.89,59.35 L140.60,59.35 L141.30,59.35 L142.00,59.35 L142.70,59.35 L143.40,59.35 L144.10,59.35 L144.80,59.35 L145.50,59.35 L146.20,59.35 L146.90,59.35 L147.60,59.35 L148.31,59.35 L149.01,59.35 L149.71,59.35 L150.41,59.35 L151.11,59.35 L151.81,59.35 L152.51,59.35 L153.21,59.35 L153.91,59.35 L154.61,59.35 L155.31,59.35 L156.01,59.35 L156.72,59.35 L157.42,59.35 L158.12,59.35 L158.82,59.35 L159.52,59.35 L160.22,59.35 L160.92,59.35 L161.62,59.35 L162.32,59.35 L163.02,59.35 L163.72,59.35 L164.43,59.35 L165.13,59.35 L165.83,59.35 L166.53,59.35 L167.23,59.35 L167.93,59.35 L168.63,59.35 L169.33,59.35 L170.03,59.35 L170.73,59.35 L171.43,59.35 L172.14,59.35 L172.84,59.35 L173.54,59.35 L174.24,59.35 L174.94,59.35 L175.64,59.35 L176.34,59.35 L177.04,59.35 L177.74,59.35 L178.44,59.35 L179.14,59.35 L179.85,59.35 L180.55,59.35 L181.25,59.35 L181.95,59.35 L182.65,59.35 L183.35,59.35 L184.05,59.35 L184.75,59.35 L185.45,59.35 L186.15,59.35 L186.85,59.35 L187.55,59.35 L188.26,59.35 L188.96,59.35 L189.66,59.35 L190.36,59.36 L191.06,59.36 L191.76,59.36 L192.46,59.36 L193.16,59.36 L193.86,59.36 L194.56,59.36 L195.26,59.36 L195.97,59.36 L196.67,59.36 L197.37,59.36 L198.07,59.36 L198.77,59.36 L199.47,59.36 L200.17,59.36 L200.87,59.36 L201.57,59.36 L202.27,59.36 L202.97,59.36 L203.68,59.36 L204.38,59.36 L205.08,59.36 L205.78,59.36 L206.48,59.36 L207.18,59.36 L207.88,59.36 L208.58,59.36 L209.28,59.36 L209.98,59.36 L210.68,59.36 L211.39,59.36 L212.09,59.36 L212.79,59.36 L213.49,59.36 L214.19,59.36 L214.89,59.36 L215.59,59.36 L216.29,59.36 L216.99,59.36 L217.69,59.36 L218.39,59.36 L219.09,59.36 L219.80,59.36 L220.50,59.36 L221.20,59.36 L221.90,59.36 L222.60,59.36 L223.30,59.36 L224.00,59.36 L224.70,59.36 L225.40,59.36 L226.10,59.36 L226.80,59.36 L227.51,59.36 L228.21,59.36 L228.91,59.36 L229.61,59.36 L230.31,59.36 L231.01,59.36 L231.71,59.36 L232.41,59.36 L233.11,59.36 L233.81,59.36 L234.51,59.36 L235.22,59.36 L235.92,59.36 L236.62,59.37 L237.32,59.37 L238.02,59.37 L238.72,59.37 L239.42,59.37 L240.12,59.37 L240.82,59.37 L241.52,59.37 L242.22,59.37 L242.93,59.37 L243.63,59.37 L244.33,59.37 L245.03,59.37 L245.73,59.37 L246.43,59.37 L247.13,59.37 L247.83,59.37 L248.53,59.37 L249.23,59.37 L249.93,59.37 L250.63,59.37 L251.34,59.37 L252.04,59.37 L252.74,59.37 L253.44,59.37 L254.14,59.37 L254.84,59.37 L255.54,59.37 L256.24,59.37 L256.94,59.37 L257.64,59.37 L258.34,59.37 L259.05,59.37 L259.75,59.37 L260.45,59.37 L261.15,59.37 L261.85,59.37 L262.55,59.37 L263.25,59.37 L263.95,59.37 L264.65,59.37 L265.35,59.38 L266.05,59.38 L266.76,59.38 L267.46,59.38 L268.16,59.38 L268.86,59.38 L269.56,59.38 L270.26,59.38 L270.96,59.38 L271.66,59.38 L272.36,59.38 L273.06,59.38 L273.76,59.38 L274.47,59.38 L275.17,59.38 L275.87,59.38 L276.57,59.38 L277.27,59.38 L277.97,59.38 L278.67,59.38 L279.37,59.38 L280.07,59.38 L280.77,59.38 L281.47,59.38 L282.17,59.38 L282.88,59.38 L283.58,59.38 L284.28,59.38 L284.98,59.38 L285.68,59.38 L286.38,59.38 L287.08,59.39 L287.78,59.39 L288.48,59.39 L289.18,59.39 L289.88,59.39 L290.59,59.39 L291.29,59.39 L291.99,59.39 L292.69,59.39 L293.39,59.39 L294.09,59.39 L294.79,59.39 L295.49,59.39 L296.19,59.39 L296.89,59.39 L297.59,59.39 L298.30,59.39 L299.00,59.39 L299.70,59.39 L300.40,59.39 L301.10,59.39 L301.80,59.39 L302.50,59.39 L303.20,59.39 L303.90,59.39 L304.60,59.40 L305.30,59.40 L306.01,59.40 L306.71,59.40 L307.41,59.40 L308.11,59.40 L308.81,59.40 L309.51,59.40 L310.21,59.40 L310.91,59.40 L311.61,59.40 L312.31,59.40 L313.01,59.40 L313.71,59.40 L314.42,59.40 L315.12,59.40 L315.82,59.40 L316.52,59.40 L317.22,59.40 L317.92,59.40 L318.62,59.40 L319.32,59.40 L320.02,59.41 L320.72,59.41 L321.42,59.41 L322.13,59.41 L322.83,59.41 L323.53,59.41 L324.23,59.41 L324.93,59.41 L325.63,59.41 L326.33,59.41 L327.03,59.41 L327.73,59.41 L328.43,59.41 L329.13,59.41 L329.84,59.41 L330.54,59.41 L331.24,59.41 L331.94,59.41 L332.64,59.41 L333.34,59.41 L334.04,59.42 L334.74,59.42 L335.44,59.42 L336.14,59.42 L336.84,59.42 L337.55,59.42 L338.25,59.42 L338.95,59.42 L339.65,59.42 L340.35,59.42 L341.05,59.42 L341.75,59.42 L342.45,59.42 L343.15,59.42 L343.85,59.42 L344.55,59.42 L345.25,59.42 L345.96,59.43 L346.66,59.43 L347.36,59.43 L348.06,59.43 L348.76,59.43 L349.46,59.43 L350.16,59.43 L350.86,59.43 L351.56,59.43 L352.26,59.43 L352.96,59.43 L353.67,59.43 L354.37,59.43 L355.07,59.43 L355.77,59.43 L356.47,59.43 L357.17,59.43 L357.87,59.44 L358.57,59.44 L359.27,59.44 L359.97,59.44 L360.67,59.44 L361.38,59.44 L362.08,59.44 L362.78,59.44 L363.48,59.44 L364.18,59.44 L364.88,59.44 L365.58,59.44 L366.28,59.44 L366.98,59.44 L367.68,59.44 L368.38,59.45 L369.09,59.45 L369.79,59.45 L370.49,59.45 L371.19,59.45 L371.89,59.46 L372.59,59.46 L373.29,59.47 L373.99,59.48 L374.69,59.49 L375.39,59.50 L376.09,59.52 L376.79,59.53 L377.50,59.55 L378.20,59.56 L378.90,59.58 L379.60,59.60 L380.30,59.62 L381.00,59.64 L381.70,59.66 L382.40,59.68 L383.10,59.70 L383.80,59.72 L384.50,59.75 L385.21,59.77 L385.91,59.79 L386.61,59.81 L387.31,59.83 L388.01,59.85 L388.71,59.87 L389.41,59.89 L390.11,59.92 L390.81,59.94 L391.51,59.96 L392.21,59.98 L392.92,60.01 L393.62,60.03 L394.32,60.06 L395.02,60.08 L395.72,60.11 L396.42,60.14 L397.12,60.17 L397.82,60.21 L398.52,60.24 L399.22,60.28 L399.92,60.31 L400.63,60.36 L401.33,60.40 L402.03,60.44 L402.73,60.49 L403.43,60.54 L404.13,60.60 L404.83,60.66 L405.53,60.74 L406.23,60.84 L406.93,60.94 L407.63,61.06 L408.33,61.18 L409.04,61.32 L409.74,61.46 L410.44,61.61 L411.14,61.77 L411.84,61.94 L412.54,62.11 L413.24,62.29 L413.94,62.47 L414.64,62.66 L415.34,62.85 L416.04,63.06 L416.75,63.29 L417.45,63.53 L418.15,63.79 L418.85,64.07 L419.55,64.36 L420.25,64.67 L420.95,65.00 L421.65,65.33 L422.35,65.69 L423.05,66.05 L423.75,66.43 L424.46,66.82 L425.16,67.23 L425.86,67.66 L426.56,68.13 L427.26,68.64 L427.96,69.18 L428.66,69.75 L429.36,70.34 L430.06,70.96 L430.76,71.60 L431.46,72.26 L432.17,72.93 L432.87,73.62 L433.57,74.32 L434.27,75.03 L434.97,75.76 L435.67,76.51 L436.37,77.30 L437.07,78.11 L437.77,78.96 L438.47,79.84 L439.17,80.77 L439.87,81.73 L440.58,82.74 L441.28,83.79 L441.98,84.90 L442.68,86.09 L443.38,87.34 L444.08,88.67 L444.78,90.07 L445.48,91.55 L446.18,93.11 L446.88,94.74 L447.58,96.46 L448.29,98.34 L448.99,100.39 L449.69,102.59 L450.39,104.92 L451.09,107.36 L451.79,109.89 L452.49,112.47 L453.19,115.26 L453.89,118.32 L454.59,121.45 L455.29,124.46 L456.00,127.08 L456.70,130.05 L457.40,133.95 L458.10,138.38 L458.80,143.01 L459.50,147.53 L460.20,151.62 L460.90,155.36 L461.60,158.93 L462.30,162.45 L463.00,166.01 L463.71,169.72 L464.41,173.69 L465.11,178.05 L465.81,182.78 L466.51,187.70 L467.21,192.63 L467.91,197.41 L468.61,201.96 L469.31,206.42 L470.01,210.83 L470.71,215.21 L471.41,219.62 L472.12,224.07 L472.82,228.55 L473.52,233.23 L474.22,238.06 L474.92,242.94 L475.62,247.88 L476.32,252.91 L477.02,257.82 L477.72,262.43 L478.42,266.77 L479.12,270.94 L479.83,275.00 L480.53,279.04 L481.23,283.05 L481.93,286.88 L482.63,290.36 L483.33,293.57 L484.03,296.58 L484.73,299.40 L485.43,302.01 L486.13,304.46 L486.83,306.78 L487.54,308.95 L488.24,310.93 L488.94,312.70 L489.64,314.38 L490.34,315.96 L491.04,317.41 L491.74,318.67 L492.44,319.68 L493.14,320.49 L493.84,321.21 L494.54,321.83 L495.25,322.37 L495.95,322.83 L496.65,323.21 L497.35,323.56 L498.05,323.88 L498.75,324.17 L499.45,324.42 L500.15,324.62 L500.85,324.77 L501.55,324.89 L502.25,325.00 L502.95,325.10 L503.66,325.19 L504.36,325.28 L505.06,325.35 L505.76,325.41 L506.46,325.46 L507.16,325.49 L507.86,325.50 L508.56,325.50 L509.26,325.50 L509.96,325.50 L510.66,325.50 L511.37,325.50 L512.07,325.50 L512.77,325.50 L513.47,325.50 L514.17,325.50 L514.87,325.50 L515.57,325.50 L516.27,325.50 L516.97,325.50 L517.67,325.50 L518.37,325.50 L519.08,325.50 L519.78,325.50 L520.48,325.50 L521.18,325.50 L521.88,325.50 L522.58,325.50 L523.28,325.50 L523.98,325.50 L524.68,325.50" fill="none" stroke="#ff0000" stroke-width="1.35" stroke-dasharray="15.6 7.8" stroke-dashoffset="-2.7"/>
<path d="M104.85,59.35 L105.55,59.35 L106.25,59.35 L106.95,59.35 L107.65,59.35 L108.35,59.35 L109.06,59.35 L109.76,59.35 L110.46,59.35 L111.16,59.35 L111.86,59.35 L112.56,59.35 L113.26,59.35 L113.96,59.35 L114.66,59.35 L115.36,59.35 L116.06,59.35 L116.77,59.35 L117.47,59.35 L118.17,59.35 L118.87,59.35 L119.57,59.35 L120.27,59.35 L120.97,59.35 L121.67,59.35 L122.37,59.35 L123.07,59.35 L123.77,59.35 L124.47,59.35 L125.18,59.35 L125.88,59.35 L126.58,59.35 L127.28,59.35 L127.98,59.35 L128.68,59.35 L129.38,59.35 L130.08,59.35 L130.78,59.35 L131.48,59.35 L132.18,59.35 L132.89,59.35 L133.59,59.35 L134.29,59.35 L134.99,59.35 L135.69,59.35 L136.39,59.35 L137.09,59.35 L137.79,59.35 L138.49,59.35 L139.19,59.35 L139.89,59.35 L140.60,59.35 L141.30,59.35 L142.00,59.35 L142.70,59.35 L143.40,59.35 L144.10,59.35 L144.80,59.35 L145.50,59.35 L146.20,59.35 L146.90,59.35 L147.60,59.35 L148.31,59.35 L149.01,59.35 L149.71,59.35 L150.41,59.35 L151.11,59.35 L151.81,59.35 L152.51,59.35 L153.21,59.35 L153.91,59.35 L154.61,59.35 L155.31,59.35 L156.01,59.35 L156.72,59.35 L157.42,59.35 L158.12,59.35 L158.82,59.35 L159.52,59.35 L160.22,59.35 L160.92,59.35 L161.62,59.35 L162.32,59.35 L163.02,59.35 L163.72,59.35 L164.43,59.35 L165.13,59.35 L165.83,59.35 L166.53,59.35 L167.23,59.35 L167.93,59.35 L168.63,59.35 L169.33,59.35 L170.03,59.35 L170.73,59.35 L171.43,59.35 L172.14,59.35 L172.84,59.35 L173.54,59.35 L174.24,59.35 L174.94,59.35 L175.64,59.35 L176.34,59.35 L177.04,59.35 L177.74,59.35 L178.44,59.35 L179.14,59.35 L179.85,59.35 L180.55,59.35 L181.25,59.35 L181.95,59.35 L182.65,59.35 L183.35,59.35 L184.05,59.35 L184.75,59.35 L185.45,59.35 L186.15,59.35 L186.85,59.35 L187.55,59.35 L188.26,59.35 L188.96,59.35 L189.66,59.35 L190.36,59.35 L191.06,59.35 L191.76,59.35 L192.46,59.35 L193.16,59.35 L193.86,59.35 L194.56,59.35 L195.26,59.35 L195.97,59.36 L196.67,59.36 L197.37,59.36 L198.07,59.36 L198.77,59.36 L199.47,59.36 L200.17,59.36 L200.87,59.36 L201.57,59.36 L202.27,59.36 L202.97,59.36 L203.68,59.36 L204.38,59.36 L205.08,59.36 L205.78,59.36 L206.48,59.36 L207.18,59.36 L207.88,59.36 L208.58,59.36 L209.28,59.36 L209.98,59.36 L210.68,59.36 L211.39,59.36 L212.09,59.36 L212.79,59.36 L213.49,59.36 L214.19,59.36 L214.89,59.36 L215.59,59.36 L216.29,59.36 L216.99,59.36 L217.69,59.36 L218.39,59.36 L219.09,59.36 L219.80,59.36 L220.50,59.36 L221.20,59.36 L221.90,59.36 L222.60,59.36 L223.30,59.36 L224.00,59.36 L224.70,59.36 L225.40,59.36 L226.10,59.36 L226.80,59.36 L227.51,59.36 L228.21,59.36 L228.91,59.36 L229.61,59.36 L230.31,59.36 L231.01,59.36 L231.71,59.36 L232.41,59.36 L233.11,59.36 L233.81,59.36 L234.51,59.36 L235.22,59.36 L235.92,59.36 L236.62,59.36 L237.32,59.36 L238.02,59.36 L238.72,59.36 L239.42,59.36 L240.12,59.36 L240.82,59.36 L241.52,59.36 L242.22,59.36 L242.93,59.36 L243.63,59.36 L244.33,59.36 L245.03,59.37 L245.73,59.37 L246.43,59.37 L247.13,59.37 L247.83,59.37 L248.53,59.37 L249.23,59.37 L249.93,59.37 L250.63,59.37 L251.34,59.37 L252.04,59.37 L252.74,59.37 L253.44,59.37 L254.14,59.37 L254.84,59.37 L255.54,59.37 L256.24,59.37 L256.94,59.37 L257.64,59.37 L258.34,59.37 L259.05,59.37 L259.75,59.37 L260.45,59.37 L261.15,59.37 L261.85,59.37 L262.55,59.37 L263.25,59.37 L263.95,59.37 L264.65,59.37 L265.35,59.37 L266.05,59.37 L266.76,59.37 L267.46,59.37 L268.16,59.37 L268.86,59.37 L269.56,59.37 L270.26,59.37 L270.96,59.37 L271.66,59.37 L272.36,59.37 L273.06,59.37 L273.76,59.37 L274.47,59.38 L275.17,59.38 L275.87,59.38 L276.57,59.38 L277.27,59.38 L277.97,59.38 L278.67,59.38 L279.37,59.38 L280.07,59.38 L280.77,59.38 L281.47,59.38 L282.17,59.38 L282.88,59.38 L283.58,59.38 L284.28,59.38 L284.98,59.38 L285.68,59.38 L286.38,59.38 L287.08,59.38 L287.78,59.38 L288.48,59.38 L289.18,59.38 L289.88,59.38 L290.59,59.38 L291.29,59.38 L291.99,59.38 L292.69,59.38 L293.39,59.38 L294.09,59.38 L294.79,59.38 L295.49,59.38 L296.19,59.38 L296.89,59.38 L297.59,59.39 L298.30,59.39 L299.00,59.39 L299.70,59.39 L300.40,59.39 L301.10,59.39 L301.80,59.39 L302.50,59.39 L303.20,59.39 L303.90,59.39 L304.60,59.39 L305.30,59.39 L306.01,59.39 L306.71,59.39 L307.41,59.39 L308.11,59.39 L308.81,59.39 L309.51,59.39 L310.21,59.39 L310.91,59.39 L311.61,59.39 L312.31,59.39 L313.01,59.39 L313.71,59.39 L314.42,59.39 L315.12,59.39 L315.82,59.39 L316.52,59.40 L317.22,59.40 L317.92,59.40 L318.62,59.40 L319.32,59.40 L320.02,59.40 L320.72,59.40 L321.42,59.40 L322.13,59.40 L322.83,59.40 L323.53,59.40 L324.23,59.40 L324.93,59.40 L325.63,59.40 L326.33,59.40 L327.03,59.40 L327.73,59.40 L328.43,59.40 L329.13,59.40 L329.84,59.40 L330.54,59.40 L331.24,59.40 L331.94,59.40 L332.64,59.41 L333.34,59.41 L334.04,59.41 L334.74,59.41 L335.44,59.41 L336.14,59.41 L336.84,59.41 L337.55,59.41 L338.25,59.41 L338.95,59.41 L339.65,59.41 L340.35,59.41 L341.05,59.41 L341.75,59.41 L342.45,59.41 L343.15,59.41 L343.85,59.41 L344.55,59.41 L345.25,59.41 L345.96,59.41 L346.66,59.42 L347.36,59.42 L348.06,59.42 L348.76,59.42 L349.46,59.42 L350.16,59.42 L350.86,59.42 L351.56,59.42 L352.26,59.42 L352.96,59.42 L353.67,59.42 L354.37,59.42 L355.07,59.42 L355.77,59.42 L356.47,59.42 L357.17,59.42 L357.87,59.42 L358.57,59.42 L359.27,59.42 L359.97,59.43 L360.67,59.43 L361.38,59.43 L362.08,59.43 L362.78,59.43 L363.48,59.43 L364.18,59.43 L364.88,59.43 L365.58,59.43 L366.28,59.43 L366.98,59.43 L367.68,59.43 L368.38,59.43 L369.09,59.43 L369.79,59.43 L370.49,59.43 L371.19,59.43 L371.89,59.44 L372.59,59.44 L373.29,59.44 L373.99,59.44 L374.69,59.44 L375.39,59.44 L376.09,59.44 L376.79,59.44 L377.50,59.44 L378.20,59.44 L378.90,59.44 L379.60,59.44 L380.30,59.44 L381.00,59.44 L381.70,59.44 L382.40,59.44 L383.10,59.45 L383.80,59.45 L384.50,59.45 L385.21,59.45 L385.91,59.45 L386.61,59.45 L387.31,59.46 L388.01,59.47 L388.71,59.48 L389.41,59.49 L390.11,59.50 L390.81,59.51 L391.51,59.53 L392.21,59.54 L392.92,59.56 L393.62,59.58 L394.32,59.60 L395.02,59.61 L395.72,59.63 L396.42,59.65 L397.12,59.68 L397.82,59.70 L398.52,59.72 L399.22,59.74 L399.92,59.76 L400.63,59.78 L401.33,59.80 L402.03,59.82 L402.73,59.84 L403.43,59.86 L404.13,59.89 L404.83,59.91 L405.53,59.93 L406.23,59.95 L406.93,59.98 L407.63,60.00 L408.33,60.03 L409.04,60.05 L409.74,60.08 L410.44,60.10 L411.14,60.13 L411.84,60.16 L412.54,60.19 L413.24,60.22 L413.94,60.25 L414.64,60.29 L415.34,60.32 L416.04,60.35 L416.75,60.39 L417.45,60.42 L418.15,60.46 L418.85,60.50 L419.55,60.54 L420.25,60.58 L420.95,60.62 L421.65,60.67 L422.35,60.72 L423.05,60.77 L423.75,60.82 L424.46,60.88 L425.16,60.93 L425.86,60.99 L426.56,61.05 L427.26,61.12 L427.96,61.18 L428.66,61.25 L429.36,61.32 L430.06,61.39 L430.76,61.47 L431.46,61.54 L432.17,61.62 L432.87,61.70 L433.57,61.78 L434.27,61.86 L434.97,61.95 L435.67,62.04 L436.37,62.12 L437.07,62.21 L437.77,62.31 L438.47,62.40 L439.17,62.50 L439.87,62.61 L440.58,62.72 L441.28,62.84 L441.98,62.96 L442.68,63.09 L443.38,63.22 L444.08,63.35 L444.78,63.49 L445.48,63.63 L446.18,63.78 L446.88,63.92 L447.58,64.07 L448.29,64.23 L448.99,64.38 L449.69,64.54 L450.39,64.70 L451.09,64.86 L451.79,65.02 L452.49,65.19 L453.19,65.35 L453.89,65.52 L454.59,65.70 L455.29,65.88 L456.00,66.06 L456.70,66.25 L457.40,66.44 L458.10,66.64 L458.80,66.84 L459.50,67.05 L460.20,67.26 L460.90,67.47 L461.60,67.69 L462.30,67.92 L463.00,68.15 L463.71,68.39 L464.41,68.63 L465.11,68.88 L465.81,69.13 L466.51,69.39 L467.21,69.67 L467.91,69.95 L468.61,70.24 L469.31,70.54 L470.01,70.84 L470.71,71.15 L471.41,71.47 L472.12,71.80 L472.82,72.13 L473.52,72.47 L474.22,72.82 L474.92,73.17 L475.62,73.52 L476.32,73.88 L477.02,74.25 L477.72,74.62 L478.42,75.00 L479.12,75.38 L479.83,75.78 L480.53,76.18 L481.23,76.60 L481.93,77.02 L482.63,77.45 L483.33,77.90 L484.03,78.35 L484.73,78.82 L485.43,79.29 L486.13,79.77 L486.83,80.27 L487.54,80.78 L488.24,81.30 L488.94,81.83 L489.64,82.38 L490.34,82.95 L491.04,83.53 L491.74,84.12 L492.44,84.73 L493.14,85.35 L493.84,85.99 L494.54,86.64 L495.25,87.30 L495.95,87.97 L496.65,88.65 L497.35,89.35 L498.05,90.06 L498.75,90.79 L499.45,91.55 L500.15,92.33 L500.85,93.13 L501.55,93.94 L502.25,94.77 L502.95,95.61 L503.66,96.46 L504.36,97.32 L505.06,98.19 L505.76,99.07 L506.46,99.95 L507.16,100.82 L507.86,101.70 L508.56,102.59 L509.26,103.48 L509.96,104.38 L510.66,105.29 L511.37,106.21 L512.07,107.15 L512.77,108.10 L513.47,109.07 L514.17,110.05 L514.87,111.06 L515.57,112.08 L516.27,113.10 L516.97,114.13 L517.67,115.18 L518.37,116.26 L519.08,117.39 L519.78,118.56 L520.48,119.80 L521.18,121.11 L521.88,122.57 L522.58,124.22 L523.28,125.97 L523.98,127.71 L524.68,129.34" fill="none" stroke="#000000" stroke-width="1.35"/>
<rect x="527.50" y="32.55" width="423.30" height="292.95" fill="none" stroke="#000" stroke-width="1.4"/>
<path d="M527.50,325.50v-6.0M527.50,32.55v6.0M541.61,325.50v-3.0M541.61,32.55v3.0M555.72,325.50v-3.0M555.72,32.55v3.0M569.83,325.50v-3.0M569.83,32.55v3.0M583.94,325.50v-6.0M583.94,32.55v6.0M598.05,325.50v-3.0M598.05,32.55v3.0M612.16,325.50v-3.0M612.16,32.55v3.0M626.27,325.50v-3.0M626.27,32.55v3.0M640.38,325.50v-6.0M640.38,32.55v6.0M654.49,325.50v-3.0M654.49,32.55v3.0M668.60,325.50v-3.0M668.60,32.55v3.0M682.71,325.50v-3.0M682.71,32.55v3.0M696.82,325.50v-6.0M696.82,32.55v6.0M710.93,325.50v-3.0M710.93,32.55v3.0M725.04,325.50v-3.0M725.04,32.55v3.0M739.15,325.50v-3.0M739.15,32.55v3.0M753.26,325.50v-6.0M753.26,32.55v6.0M767.37,325.50v-3.0M767.37,32.55v3.0M781.48,325.50v-3.0M781.48,32.55v3.0M795.59,325.50v-3.0M795.59,32.55v3.0M809.70,325.50v-6.0M809.70,32.55v6.0M823.81,325.50v-3.0M823.81,32.55v3.0M837.92,325.50v-3.0M837.92,32.55v3.0M852.03,325.50v-3.0M852.03,32.55v3.0M866.14,325.50v-6.0M866.14,32.55v6.0M880.25,325.50v-3.0M880.25,32.55v3.0M894.36,325.50v-3.0M894.36,32.55v3.0M908.47,325.50v-3.0M908.47,32.55v3.0M922.58,325.50v-6.0M922.58,32.55v6.0M936.69,325.50v-3.0M936.69,32.55v3.0M950.80,325.50v-3.0M950.80,32.55v3.0M527.50,325.50h8.5M950.80,325.50h-8.5M527.50,312.19h4.2M950.80,312.19h-4.2M527.50,298.88h4.2M950.80,298.88h-4.2M527.50,285.58h4.2M950.80,285.58h-4.2M527.50,272.27h8.5M950.80,272.27h-8.5M527.50,258.96h4.2M950.80,258.96h-4.2M527.50,245.66h4.2M950.80,245.66h-4.2M527.50,232.35h4.2M950.80,232.35h-4.2M527.50,219.04h8.5M950.80,219.04h-8.5M527.50,205.73h4.2M950.80,205.73h-4.2M527.50,192.43h4.2M950.80,192.43h-4.2M527.50,179.12h4.2M950.80,179.12h-4.2M527.50,165.81h8.5M950.80,165.81h-8.5M527.50,152.50h4.2M950.80,152.50h-4.2M527.50,139.19h4.2M950.80,139.19h-4.2M527.50,125.89h4.2M950.80,125.89h-4.2M527.50,112.58h8.5M950.80,112.58h-8.5M527.50,99.27h4.2M950.80,99.27h-4.2M527.50,85.97h4.2M950.80,85.97h-4.2M527.50,72.66h4.2M950.80,72.66h-4.2M527.50,59.35h8.5M950.80,59.35h-8.5M527.50,46.04h4.2M950.80,46.04h-4.2M527.50,32.74h4.2M950.80,32.74h-4.2" stroke="#000" stroke-width="1.4" fill="none"/>
<path d="M527.50,59.35 L528.20,59.35 L528.90,59.35 L529.61,59.35 L530.31,59.35 L531.01,59.35 L531.71,59.35 L532.41,59.35 L533.12,59.35 L533.82,59.35 L534.52,59.35 L535.22,59.35 L535.92,59.35 L536.63,59.35 L537.33,59.35 L538.03,59.35 L538.73,59.35 L539.43,59.35 L540.14,59.35 L540.84,59.35 L541.54,59.35 L542.24,59.35 L542.94,59.35 L543.65,59.35 L544.35,59.35 L545.05,59.35 L545.75,59.35 L546.45,59.35 L547.16,59.35 L547.86,59.35 L548.56,59.36 L549.26,59.36 L549.96,59.36 L550.66,59.36 L551.37,59.36 L552.07,59.36 L552.77,59.36 L553.47,59.36 L554.17,59.36 L554.88,59.36 L555.58,59.36 L556.28,59.36 L556.98,59.36 L557.68,59.36 L558.39,59.36 L559.09,59.36 L559.79,59.36 L560.49,59.36 L561.19,59.36 L561.90,59.36 L562.60,59.37 L563.30,59.37 L564.00,59.37 L564.70,59.37 L565.41,59.37 L566.11,59.37 L566.81,59.37 L567.51,59.37 L568.21,59.37 L568.92,59.37 L569.62,59.37 L570.32,59.37 L571.02,59.38 L571.72,59.38 L572.43,59.38 L573.13,59.38 L573.83,59.38 L574.53,59.38 L575.23,59.38 L575.94,59.38 L576.64,59.38 L577.34,59.38 L578.04,59.39 L578.74,59.39 L579.45,59.39 L580.15,59.39 L580.85,59.39 L581.55,59.39 L582.25,59.39 L582.96,59.39 L583.66,59.40 L584.36,59.40 L585.06,59.40 L585.76,59.40 L586.47,59.40 L587.17,59.40 L587.87,59.40 L588.57,59.41 L589.27,59.41 L589.98,59.41 L590.68,59.41 L591.38,59.41 L592.08,59.41 L592.78,59.41 L593.48,59.42 L594.19,59.42 L594.89,59.42 L595.59,59.42 L596.29,59.42 L596.99,59.42 L597.70,59.43 L598.40,59.43 L599.10,59.43 L599.80,59.43 L600.50,59.43 L601.21,59.44 L601.91,59.44 L602.61,59.44 L603.31,59.44 L604.01,59.44 L604.72,59.45 L605.42,59.45 L606.12,59.45 L606.82,59.46 L607.52,59.47 L608.23,59.49 L608.93,59.50 L609.63,59.52 L610.33,59.54 L611.03,59.57 L611.74,59.59 L612.44,59.62 L613.14,59.65 L613.84,59.68 L614.54,59.71 L615.25,59.74 L615.95,59.77 L616.65,59.80 L617.35,59.84 L618.05,59.87 L618.76,59.90 L619.46,59.94 L620.16,59.97 L620.86,60.00 L621.56,60.04 L622.27,60.07 L622.97,60.10 L623.67,60.13 L624.37,60.16 L625.07,60.20 L625.78,60.23 L626.48,60.26 L627.18,60.29 L627.88,60.33 L628.58,60.36 L629.29,60.40 L629.99,60.43 L630.69,60.47 L631.39,60.51 L632.09,60.55 L632.79,60.59 L633.50,60.63 L634.20,60.67 L634.90,60.71 L635.60,60.76 L636.30,60.80 L637.01,60.85 L637.71,60.90 L638.41,60.95 L639.11,61.01 L639.81,61.06 L640.52,61.12 L641.22,61.18 L641.92,61.24 L642.62,61.31 L643.32,61.38 L644.03,61.45 L644.73,61.54 L645.43,61.62 L646.13,61.72 L646.83,61.82 L647.54,61.93 L648.24,62.04 L648.94,62.16 L649.64,62.28 L650.34,62.41 L651.05,62.54 L651.75,62.68 L652.45,62.82 L653.15,62.97 L653.85,63.12 L654.56,63.28 L655.26,63.44 L655.96,63.60 L656.66,63.77 L657.36,63.94 L658.07,64.12 L658.77,64.31 L659.47,64.51 L660.17,64.73 L660.87,64.95 L661.58,65.19 L662.28,65.44 L662.98,65.71 L663.68,65.98 L664.38,66.26 L665.09,66.55 L665.79,66.85 L666.49,67.16 L667.19,67.48 L667.89,67.81 L668.60,68.14 L669.30,68.49 L670.00,68.84 L670.70,69.20 L671.40,69.59 L672.11,70.00 L672.81,70.43 L673.51,70.88 L674.21,71.35 L674.91,71.83 L675.61,72.33 L676.32,72.85 L677.02,73.38 L677.72,73.92 L678.42,74.47 L679.12,75.03 L679.83,75.61 L680.53,76.19 L681.23,76.80 L681.93,77.43 L682.63,78.09 L683.34,78.77 L684.04,79.47 L684.74,80.19 L685.44,80.94 L686.14,81.71 L686.85,82.50 L687.55,83.31 L688.25,84.15 L688.95,85.02 L689.65,85.93 L690.36,86.87 L691.06,87.84 L691.76,88.84 L692.46,89.86 L693.16,90.91 L693.87,91.98 L694.57,93.07 L695.27,94.18 L695.97,95.32 L696.67,96.50 L697.38,97.71 L698.08,98.96 L698.78,100.24 L699.48,101.55 L700.18,102.90 L700.89,104.27 L701.59,105.68 L702.29,107.14 L702.99,108.64 L703.69,110.19 L704.40,111.79 L705.10,113.44 L705.80,115.14 L706.50,116.89 L707.20,118.83 L707.91,120.85 L708.61,122.83 L709.31,124.64 L710.01,126.23 L710.71,127.69 L711.42,129.17 L712.12,130.78 L712.82,132.52 L713.52,134.32 L714.22,136.19 L714.93,138.11 L715.63,140.08 L716.33,142.09 L717.03,144.13 L717.73,146.19 L718.43,148.30 L719.14,150.46 L719.84,152.66 L720.54,154.91 L721.24,157.19 L721.94,159.50 L722.65,161.82 L723.35,164.17 L724.05,166.56 L724.75,168.99 L725.45,171.45 L726.16,173.94 L726.86,176.43 L727.56,178.94 L728.26,181.43 L728.96,183.95 L729.67,186.48 L730.37,189.02 L731.07,191.57 L731.77,194.12 L732.47,196.66 L733.18,199.19 L733.88,201.71 L734.58,204.22 L735.28,206.75 L735.98,209.29 L736.69,211.85 L737.39,214.43 L738.09,217.02 L738.79,219.64 L739.49,222.30 L740.20,225.02 L740.90,227.83 L741.60,230.72 L742.30,233.64 L743.00,236.56 L743.71,239.42 L744.41,242.20 L745.11,244.84 L745.81,247.41 L746.51,249.92 L747.22,252.37 L747.92,254.79 L748.62,257.18 L749.32,259.56 L750.02,261.92 L750.73,264.31 L751.43,266.70 L752.13,269.06 L752.83,271.38 L753.53,273.62 L754.24,275.76 L754.94,277.78 L755.64,279.69 L756.34,281.51 L757.04,283.28 L757.75,284.99 L758.45,286.67 L759.15,288.33 L759.85,289.99 L760.55,291.67 L761.25,293.37 L761.96,295.04 L762.66,296.67 L763.36,298.23 L764.06,299.69 L764.76,301.03 L765.47,302.24 L766.17,303.39 L766.87,304.46 L767.57,305.49 L768.27,306.48 L768.98,307.45 L769.68,308.40 L770.38,309.36 L771.08,310.32 L771.78,311.26 L772.49,312.16 L773.19,313.03 L773.89,313.85 L774.59,314.59 L775.29,315.28 L776.00,315.95 L776.70,316.59 L777.40,317.20 L778.10,317.78 L778.80,318.33 L779.51,318.83 L780.21,319.29 L780.91,319.70 L781.61,320.07 L782.31,320.42 L783.02,320.75 L783.72,321.06 L784.42,321.36 L785.12,321.63 L785.82,321.89 L786.53,322.14 L787.23,322.37 L787.93,322.58 L788.63,322.79 L789.33,322.98 L790.04,323.17 L790.74,323.36 L791.44,323.54 L792.14,323.71 L792.84,323.87 L793.55,324.02 L794.25,324.16 L794.95,324.29 L795.65,324.41 L796.35,324.52 L797.06,324.61 L797.76,324.69 L798.46,324.78 L799.16,324.86 L799.86,324.94 L800.57,325.02 L801.27,325.10 L801.97,325.17 L802.67,325.23 L803.37,325.29 L804.07,325.35 L804.78,325.39 L805.48,325.43 L806.18,325.46 L806.88,325.49 L807.58,325.50 L808.29,325.50 L808.99,325.50 L809.69,325.50 L810.39,325.50 L811.09,325.50 L811.80,325.50 L812.50,325.50 L813.20,325.50 L813.90,325.50 L814.60,325.50 L815.31,325.50 L816.01,325.50 L816.71,325.50 L817.41,325.50 L818.11,325.50 L818.82,325.50 L819.52,325.50 L820.22,325.50 L820.92,325.50 L821.62,325.50 L822.33,325.50 L823.03,325.50 L823.73,325.50 L824.43,325.50 L825.13,325.50 L825.84,325.50 L826.54,325.50 L827.24,325.50 L827.94,325.50 L828.64,325.50 L829.35,325.50 L830.05,325.50 L830.75,325.50 L831.45,325.50 L832.15,325.50 L832.86,325.50 L833.56,325.50 L834.26,325.50 L834.96,325.50 L835.66,325.50 L836.37,325.50 L837.07,325.50 L837.77,325.50 L838.47,325.50 L839.17,325.50 L839.88,325.50 L840.58,325.50 L841.28,325.50 L841.98,325.50 L842.68,325.50 L843.38,325.50 L844.09,325.50 L844.79,325.50 L845.49,325.50 L846.19,325.50 L846.89,325.50 L847.60,325.50 L848.30,325.50 L849.00,325.50 L849.70,325.50 L850.40,325.50 L851.11,325.50 L851.81,325.50 L852.51,325.50 L853.21,325.50 L853.91,325.50 L854.62,325.50 L855.32,325.50 L856.02,325.50 L856.72,325.50 L857.42,325.50 L858.13,325.50 L858.83,325.50 L859.53,325.50 L860.23,325.50 L860.93,325.50 L861.64,325.50 L862.34,325.50 L863.04,325.50 L863.74,325.50 L864.44,325.50 L865.15,325.50 L865.85,325.50 L866.55,325.50 L867.25,325.50 L867.95,325.50 L868.66,325.50 L869.36,325.50 L870.06,325.50 L870.76,325.50 L871.46,325.50 L872.17,325.50 L872.87,325.50 L873.57,325.50 L874.27,325.50 L874.97,325.50 L875.68,325.50 L876.38,325.50 L877.08,325.50 L877.78,325.50 L878.48,325.50 L879.19,325.50 L879.89,325.50 L880.59,325.50 L881.29,325.50 L881.99,325.50 L882.70,325.50 L883.40,325.50 L884.10,325.50 L884.80,325.50 L885.50,325.50 L886.20,325.50 L886.91,325.50 L887.61,325.50 L888.31,325.50 L889.01,325.50 L889.71,325.50 L890.42,325.50 L891.12,325.50 L891.82,325.50 L892.52,325.50 L893.22,325.50 L893.93,325.50 L894.63,325.50 L895.33,325.50 L896.03,325.50 L896.73,325.50 L897.44,325.50 L898.14,325.50 L898.84,325.50 L899.54,325.50 L900.24,325.50 L900.95,325.50 L901.65,325.50 L902.35,325.50 L903.05,325.50 L903.75,325.50 L904.46,325.50 L905.16,325.50 L905.86,325.50 L906.56,325.50 L907.26,325.50 L907.97,325.50 L908.67,325.50 L909.37,325.50 L910.07,325.50 L910.77,325.50 L911.48,325.50 L912.18,325.50 L912.88,325.50 L913.58,325.50 L914.28,325.50 L914.99,325.50 L915.69,325.50 L916.39,325.50 L917.09,325.50 L917.79,325.50 L918.50,325.50 L919.20,325.50 L919.90,325.50 L920.60,325.50 L921.30,325.50 L922.01,325.50 L922.71,325.50 L923.41,325.50 L924.11,325.50 L924.81,325.50 L925.52,325.50 L926.22,325.50 L926.92,325.50 L927.62,325.50 L928.32,325.50 L929.02,325.50 L929.73,325.50 L930.43,325.50 L931.13,325.50 L931.83,325.50 L932.53,325.50 L933.24,325.50 L933.94,325.50 L934.64,325.50 L935.34,325.50 L936.04,325.50 L936.75,325.50 L937.45,325.50 L938.15,325.50 L938.85,325.50 L939.55,325.50 L940.26,325.50 L940.96,325.50 L941.66,325.50 L942.36,325.50 L943.06,325.50 L943.77,325.50 L944.47,325.50 L945.17,325.50 L945.87,325.50 L946.57,325.50 L947.28,325.50 L947.98,325.50" fill="none" stroke="#ff00ff" stroke-width="1.35" stroke-dasharray="7.8 7.8" stroke-dashoffset="-1.0"/>
<path d="M527.50,59.35 L528.20,59.35 L528.90,59.35 L529.61,59.35 L530.31,59.35 L531.01,59.35 L531.71,59.35 L532.41,59.35 L533.12,59.35 L533.82,59.35 L534.52,59.35 L535.22,59.35 L535.92,59.35 L536.63,59.35 L537.33,59.35 L538.03,59.35 L538.73,59.35 L539.43,59.35 L540.14,59.35 L540.84,59.35 L541.54,59.35 L542.24,59.35 L542.94,59.35 L543.65,59.35 L544.35,59.35 L545.05,59.35 L545.75,59.35 L546.45,59.35 L547.16,59.35 L547.86,59.35 L548.56,59.35 L549.26,59.35 L549.96,59.35 L550.66,59.35 L551.37,59.35 L552.07,59.35 L552.77,59.35 L553.47,59.35 L554.17,59.35 L554.88,59.35 L555.58,59.35 L556.28,59.35 L556.98,59.35 L557.68,59.35 L558.39,59.35 L559.09,59.35 L559.79,59.35 L560.49,59.35 L561.19,59.35 L561.90,59.35 L562.60,59.35 L563.30,59.35 L564.00,59.35 L564.70,59.35 L565.41,59.35 L566.11,59.35 L566.81,59.35 L567.51,59.35 L568.21,59.35 L568.92,59.35 L569.62,59.35 L570.32,59.35 L571.02,59.35 L571.72,59.35 L572.43,59.35 L573.13,59.35 L573.83,59.36 L574.53,59.36 L575.23,59.36 L575.94,59.36 L576.64,59.36 L577.34,59.36 L578.04,59.36 L578.74,59.36 L579.45,59.36 L580.15,59.36 L580.85,59.36 L581.55,59.36 L582.25,59.36 L582.96,59.36 L583.66,59.36 L584.36,59.36 L585.06,59.36 L585.76,59.36 L586.47,59.36 L587.17,59.36 L587.87,59.36 L588.57,59.36 L589.27,59.36 L589.98,59.36 L590.68,59.36 L591.38,59.36 L592.08,59.36 L592.78,59.36 L593.48,59.36 L594.19,59.36 L594.89,59.36 L595.59,59.36 L596.29,59.36 L596.99,59.36 L597.70,59.36 L598.40,59.36 L599.10,59.36 L599.80,59.36 L600.50,59.37 L601.21,59.37 L601.91,59.37 L602.61,59.37 L603.31,59.37 L604.01,59.37 L604.72,59.37 L605.42,59.37 L606.12,59.37 L606.82,59.37 L607.52,59.37 L608.23,59.37 L608.93,59.37 L609.63,59.37 L610.33,59.37 L611.03,59.37 L611.74,59.37 L612.44,59.37 L613.14,59.37 L613.84,59.37 L614.54,59.37 L615.25,59.37 L615.95,59.37 L616.65,59.38 L617.35,59.38 L618.05,59.38 L618.76,59.38 L619.46,59.38 L620.16,59.38 L620.86,59.38 L621.56,59.38 L622.27,59.38 L622.97,59.38 L623.67,59.38 L624.37,59.38 L625.07,59.38 L625.78,59.38 L626.48,59.38 L627.18,59.38 L627.88,59.38 L628.58,59.38 L629.29,59.39 L629.99,59.39 L630.69,59.39 L631.39,59.39 L632.09,59.39 L632.79,59.39 L633.50,59.39 L634.20,59.39 L634.90,59.39 L635.60,59.39 L636.30,59.39 L637.01,59.39 L637.71,59.39 L638.41,59.39 L639.11,59.39 L639.81,59.40 L640.52,59.40 L641.22,59.40 L641.92,59.40 L642.62,59.40 L643.32,59.40 L644.03,59.40 L644.73,59.40 L645.43,59.40 L646.13,59.40 L646.83,59.40 L647.54,59.40 L648.24,59.40 L648.94,59.41 L649.64,59.41 L650.34,59.41 L651.05,59.41 L651.75,59.41 L652.45,59.41 L653.15,59.41 L653.85,59.41 L654.56,59.41 L655.26,59.41 L655.96,59.41 L656.66,59.42 L657.36,59.42 L658.07,59.42 L658.77,59.42 L659.47,59.42 L660.17,59.42 L660.87,59.42 L661.58,59.42 L662.28,59.42 L662.98,59.42 L663.68,59.42 L664.38,59.43 L665.09,59.43 L665.79,59.43 L666.49,59.43 L667.19,59.43 L667.89,59.43 L668.60,59.43 L669.30,59.43 L670.00,59.43 L670.70,59.44 L671.40,59.44 L672.11,59.44 L672.81,59.44 L673.51,59.44 L674.21,59.44 L674.91,59.44 L675.61,59.44 L676.32,59.44 L677.02,59.45 L677.72,59.45 L678.42,59.45 L679.12,59.45 L679.83,59.46 L680.53,59.47 L681.23,59.49 L681.93,59.51 L682.63,59.53 L683.34,59.55 L684.04,59.57 L684.74,59.60 L685.44,59.63 L686.14,59.66 L686.85,59.69 L687.55,59.72 L688.25,59.75 L688.95,59.79 L689.65,59.82 L690.36,59.86 L691.06,59.89 L691.76,59.93 L692.46,59.96 L693.16,59.99 L693.87,60.03 L694.57,60.06 L695.27,60.09 L695.97,60.12 L696.67,60.15 L697.38,60.18 L698.08,60.22 L698.78,60.25 L699.48,60.28 L700.18,60.31 L700.89,60.34 L701.59,60.37 L702.29,60.41 L702.99,60.44 L703.69,60.48 L704.40,60.51 L705.10,60.55 L705.80,60.59 L706.50,60.63 L707.20,60.67 L707.91,60.72 L708.61,60.76 L709.31,60.81 L710.01,60.86 L710.71,60.91 L711.42,60.96 L712.12,61.02 L712.82,61.08 L713.52,61.15 L714.22,61.22 L714.93,61.30 L715.63,61.38 L716.33,61.47 L717.03,61.57 L717.73,61.67 L718.43,61.77 L719.14,61.89 L719.84,62.00 L720.54,62.12 L721.24,62.24 L721.94,62.37 L722.65,62.50 L723.35,62.64 L724.05,62.78 L724.75,62.92 L725.45,63.06 L726.16,63.20 L726.86,63.35 L727.56,63.50 L728.26,63.65 L728.96,63.82 L729.67,63.99 L730.37,64.17 L731.07,64.36 L731.77,64.56 L732.47,64.77 L733.18,64.98 L733.88,65.20 L734.58,65.43 L735.28,65.67 L735.98,65.91 L736.69,66.16 L737.39,66.43 L738.09,66.71 L738.79,67.02 L739.49,67.35 L740.20,67.73 L740.90,68.17 L741.60,68.67 L742.30,69.22 L743.00,69.80 L743.71,70.42 L744.41,71.05 L745.11,71.69 L745.81,72.33 L746.51,72.96 L747.22,73.60 L747.92,74.25 L748.62,74.92 L749.32,75.59 L750.02,76.29 L750.73,77.00 L751.43,77.73 L752.13,78.48 L752.83,79.25 L753.53,80.04 L754.24,80.85 L754.94,81.69 L755.64,82.55 L756.34,83.44 L757.04,84.35 L757.75,85.29 L758.45,86.26 L759.15,87.25 L759.85,88.27 L760.55,89.32 L761.25,90.40 L761.96,91.52 L762.66,92.68 L763.36,93.90 L764.06,95.15 L764.76,96.43 L765.47,97.76 L766.17,99.11 L766.87,100.49 L767.57,101.90 L768.27,103.34 L768.98,104.82 L769.68,106.34 L770.38,107.93 L771.08,109.58 L771.78,111.31 L772.49,113.13 L773.19,115.09 L773.89,117.19 L774.59,119.39 L775.29,121.65 L776.00,123.95 L776.70,126.23 L777.40,128.48 L778.10,130.68 L778.80,132.88 L779.51,135.09 L780.21,137.34 L780.91,139.63 L781.61,142.01 L782.31,144.48 L783.02,147.07 L783.72,149.76 L784.42,152.53 L785.12,155.38 L785.82,158.28 L786.53,161.21 L787.23,164.16 L787.93,167.13 L788.63,170.17 L789.33,173.25 L790.04,176.38 L790.74,179.54 L791.44,182.72 L792.14,185.95 L792.84,189.24 L793.55,192.56 L794.25,195.91 L794.95,199.26 L795.65,202.60 L796.35,205.91 L797.06,209.21 L797.76,212.50 L798.46,215.79 L799.16,219.09 L799.86,222.41 L800.57,225.76 L801.27,229.21 L801.97,232.71 L802.67,236.20 L803.37,239.64 L804.07,242.96 L804.78,246.12 L805.48,249.09 L806.18,251.92 L806.88,254.68 L807.58,257.40 L808.29,260.15 L808.99,262.97 L809.69,265.86 L810.39,268.74 L811.09,271.58 L811.80,274.31 L812.50,276.90 L813.20,279.36 L813.90,281.73 L814.60,284.04 L815.31,286.30 L816.01,288.53 L816.71,290.77 L817.41,293.03 L818.11,295.27 L818.82,297.45 L819.52,299.55 L820.22,301.51 L820.92,303.31 L821.62,304.96 L822.33,306.53 L823.03,308.02 L823.73,309.42 L824.43,310.76 L825.13,312.03 L825.84,313.23 L826.54,314.39 L827.24,315.53 L827.94,316.63 L828.64,317.68 L829.35,318.65 L830.05,319.52 L830.75,320.27 L831.45,320.89 L832.15,321.45 L832.86,321.94 L833.56,322.39 L834.26,322.77 L834.96,323.09 L835.66,323.39 L836.37,323.67 L837.07,323.93 L837.77,324.17 L838.47,324.37 L839.17,324.54 L839.88,324.68 L840.58,324.79 L841.28,324.90 L841.98,325.00 L842.68,325.10 L843.38,325.19 L844.09,325.27 L844.79,325.34 L845.49,325.40 L846.19,325.45 L846.89,325.48 L847.60,325.50 L848.30,325.50 L849.00,325.50 L849.70,325.50 L850.40,325.50 L851.11,325.50 L851.81,325.50 L852.51,325.50 L853.21,325.50 L853.91,325.50 L854.62,325.50 L855.32,325.50 L856.02,325.50 L856.72,325.50 L857.42,325.50 L858.13,325.50 L858.83,325.50 L859.53,325.50 L860.23,325.50 L860.93,325.50 L861.64,325.50 L862.34,325.50 L863.04,325.50 L863.74,325.50 L864.44,325.50 L865.15,325.50 L865.85,325.50 L866.55,325.50 L867.25,325.50 L867.95,325.50 L868.66,325.50 L869.36,325.50 L870.06,325.50 L870.76,325.50 L871.46,325.50 L872.17,325.50 L872.87,325.50 L873.57,325.50 L874.27,325.50 L874.97,325.50 L875.68,325.50 L876.38,325.50 L877.08,325.50 L877.78,325.50 L878.48,325.50 L879.19,325.50 L879.89,325.50 L880.59,325.50 L881.29,325.50 L881.99,325.50 L882.70,325.50 L883.40,325.50 L884.10,325.50 L884.80,325.50 L885.50,325.50 L886.20,325.50 L886.91,325.50 L887.61,325.50 L888.31,325.50 L889.01,325.50 L889.71,325.50 L890.42,325.50 L891.12,325.50 L891.82,325.50 L892.52,325.50 L893.22,325.50 L893.93,325.50 L894.63,325.50 L895.33,325.50 L896.03,325.50 L896.73,325.50 L897.44,325.50 L898.14,325.50 L898.84,325.50 L899.54,325.50 L900.24,325.50 L900.95,325.50 L901.65,325.50 L902.35,325.50 L903.05,325.50 L903.75,325.50 L904.46,325.50 L905.16,325.50 L905.86,325.50 L906.56,325.50 L907.26,325.50 L907.97,325.50 L908.67,325.50 L909.37,325.50 L910.07,325.50 L910.77,325.50 L911.48,325.50 L912.18,325.50 L912.88,325.50 L913.58,325.50 L914.28,325.50 L914.99,325.50 L915.69,325.50 L916.39,325.50 L917.09,325.50 L917.79,325.50 L918.50,325.50 L919.20,325.50 L919.90,325.50 L920.60,325.50 L921.30,325.50 L922.01,325.50 L922.71,325.50 L923.41,325.50 L924.11,325.50 L924.81,325.50 L925.52,325.50 L926.22,325.50 L926.92,325.50 L927.62,325.50 L928.32,325.50 L929.02,325.50 L929.73,325.50 L930.43,325.50 L931.13,325.50 L931.83,325.50 L932.53,325.50 L933.24,325.50 L933.94,325.50 L934.64,325.50 L935.34,325.50 L936.04,325.50 L936.75,325.50 L937.45,325.50 L938.15,325.50 L938.85,325.50 L939.55,325.50 L940.26,325.50 L940.96,325.50 L941.66,325.50 L942.36,325.50 L943.06,325.50 L943.77,325.50 L944.47,325.50 L945.17,325.50 L945.87,325.50 L946.57,325.50 L947.28,325.50 L947.98,325.50" fill="none" stroke="#0000ff" stroke-width="1.35" stroke-dasharray="7.8 3.9 1.95 3.9" stroke-dashoffset="-1.2"/>
<path d="M527.50,59.35 L528.20,59.35 L528.90,59.35 L529.61,59.35 L530.31,59.35 L531.01,59.35 L531.71,59.35 L532.41,59.35 L533.12,59.35 L533.82,59.35 L534.52,59.35 L535.22,59.35 L535.92,59.35 L536.63,59.35 L537.33,59.35 L538.03,59.35 L538.73,59.35 L539.43,59.35 L540.14,59.35 L540.84,59.35 L541.54,59.35 L542.24,59.35 L542.94,59.35 L543.65,59.35 L544.35,59.35 L545.05,59.35 L545.75,59.35 L546.45,59.35 L547.16,59.35 L547.86,59.35 L548.56,59.35 L549.26,59.35 L549.96,59.35 L550.66,59.35 L551.37,59.35 L552.07,59.35 L552.77,59.35 L553.47,59.35 L554.17,59.35 L554.88,59.35 L555.58,59.35 L556.28,59.35 L556.98,59.35 L557.68,59.35 L558.39,59.35 L559.09,59.35 L559.79,59.35 L560.49,59.35 L561.19,59.35 L561.90,59.35 L562.60,59.35 L563.30,59.35 L564.00,59.35 L564.70,59.35 L565.41,59.35 L566.11,59.35 L566.81,59.35 L567.51,59.35 L568.21,59.35 L568.92,59.35 L569.62,59.35 L570.32,59.35 L571.02,59.35 L571.72,59.35 L572.43,59.35 L573.13,59.35 L573.83,59.35 L574.53,59.35 L575.23,59.35 L575.94,59.35 L576.64,59.35 L577.34,59.35 L578.04,59.35 L578.74,59.35 L579.45,59.35 L580.15,59.35 L580.85,59.35 L581.55,59.35 L582.25,59.35 L582.96,59.35 L583.66,59.35 L584.36,59.35 L585.06,59.35 L585.76,59.35 L586.47,59.36 L587.17,59.36 L587.87,59.36 L588.57,59.36 L589.27,59.36 L589.98,59.36 L590.68,59.36 L591.38,59.36 L592.08,59.36 L592.78,59.36 L593.48,59.36 L594.19,59.36 L594.89,59.36 L595.59,59.36 L596.29,59.36 L596.99,59.36 L597.70,59.36 L598.40,59.36 L599.10,59.36 L599.80,59.36 L600.50,59.36 L601.21,59.36 L601.91,59.36 L602.61,59.36 L603.31,59.36 L604.01,59.36 L604.72,59.36 L605.42,59.36 L606.12,59.36 L606.82,59.36 L607.52,59.36 L608.23,59.36 L608.93,59.36 L609.63,59.36 L610.33,59.36 L611.03,59.36 L611.74,59.36 L612.44,59.36 L613.14,59.36 L613.84,59.36 L614.54,59.36 L615.25,59.36 L615.95,59.36 L616.65,59.36 L617.35,59.36 L618.05,59.36 L618.76,59.36 L619.46,59.37 L620.16,59.37 L620.86,59.37 L621.56,59.37 L622.27,59.37 L622.97,59.37 L623.67,59.37 L624.37,59.37 L625.07,59.37 L625.78,59.37 L626.48,59.37 L627.18,59.37 L627.88,59.37 L628.58,59.37 L629.29,59.37 L629.99,59.37 L630.69,59.37 L631.39,59.37 L632.09,59.37 L632.79,59.37 L633.50,59.37 L634.20,59.37 L634.90,59.37 L635.60,59.37 L636.30,59.37 L637.01,59.37 L637.71,59.37 L638.41,59.37 L639.11,59.37 L639.81,59.38 L640.52,59.38 L641.22,59.38 L641.92,59.38 L642.62,59.38 L643.32,59.38 L644.03,59.38 L644.73,59.38 L645.43,59.38 L646.13,59.38 L646.83,59.38 L647.54,59.38 L648.24,59.38 L648.94,59.38 L649.64,59.38 L650.34,59.38 L651.05,59.38 L651.75,59.38 L652.45,59.38 L653.15,59.38 L653.85,59.38 L654.56,59.38 L655.26,59.39 L655.96,59.39 L656.66,59.39 L657.36,59.39 L658.07,59.39 L658.77,59.39 L659.47,59.39 L660.17,59.39 L660.87,59.39 L661.58,59.39 L662.28,59.39 L662.98,59.39 L663.68,59.39 L664.38,59.39 L665.09,59.39 L665.79,59.39 L666.49,59.39 L667.19,59.39 L667.89,59.40 L668.60,59.40 L669.30,59.40 L670.00,59.40 L670.70,59.40 L671.40,59.40 L672.11,59.40 L672.81,59.40 L673.51,59.40 L674.21,59.40 L674.91,59.40 L675.61,59.40 L676.32,59.40 L677.02,59.40 L677.72,59.40 L678.42,59.40 L679.12,59.41 L679.83,59.41 L680.53,59.41 L681.23,59.41 L681.93,59.41 L682.63,59.41 L683.34,59.41 L684.04,59.41 L684.74,59.41 L685.44,59.41 L686.14,59.41 L686.85,59.41 L687.55,59.41 L688.25,59.41 L688.95,59.42 L689.65,59.42 L690.36,59.42 L691.06,59.42 L691.76,59.42 L692.46,59.42 L693.16,59.42 L693.87,59.42 L694.57,59.42 L695.27,59.42 L695.97,59.42 L696.67,59.42 L697.38,59.42 L698.08,59.43 L698.78,59.43 L699.48,59.43 L700.18,59.43 L700.89,59.43 L701.59,59.43 L702.29,59.43 L702.99,59.43 L703.69,59.43 L704.40,59.43 L705.10,59.43 L705.80,59.43 L706.50,59.44 L707.20,59.44 L707.91,59.44 L708.61,59.44 L709.31,59.44 L710.01,59.44 L710.71,59.44 L711.42,59.44 L712.12,59.44 L712.82,59.44 L713.52,59.45 L714.22,59.45 L714.93,59.45 L715.63,59.45 L716.33,59.45 L717.03,59.46 L717.73,59.47 L718.43,59.48 L719.14,59.50 L719.84,59.52 L720.54,59.54 L721.24,59.56 L721.94,59.58 L722.65,59.61 L723.35,59.63 L724.05,59.66 L724.75,59.69 L725.45,59.72 L726.16,59.75 L726.86,59.79 L727.56,59.82 L728.26,59.86 L728.96,59.89 L729.67,59.93 L730.37,59.97 L731.07,60.00 L731.77,60.04 L732.47,60.08 L733.18,60.12 L733.88,60.16 L734.58,60.20 L735.28,60.25 L735.98,60.30 L736.69,60.36 L737.39,60.41 L738.09,60.47 L738.79,60.53 L739.49,60.60 L740.20,60.67 L740.90,60.74 L741.60,60.81 L742.30,60.88 L743.00,60.96 L743.71,61.04 L744.41,61.12 L745.11,61.21 L745.81,61.30 L746.51,61.39 L747.22,61.48 L747.92,61.58 L748.62,61.68 L749.32,61.78 L750.02,61.88 L750.73,61.98 L751.43,62.09 L752.13,62.21 L752.83,62.34 L753.53,62.47 L754.24,62.61 L754.94,62.77 L755.64,62.92 L756.34,63.09 L757.04,63.27 L757.75,63.45 L758.45,63.64 L759.15,63.83 L759.85,64.04 L760.55,64.25 L761.25,64.46 L761.96,64.68 L762.66,64.91 L763.36,65.14 L764.06,65.38 L764.76,65.64 L765.47,65.92 L766.17,66.21 L766.87,66.52 L767.57,66.84 L768.27,67.18 L768.98,67.53 L769.68,67.89 L770.38,68.26 L771.08,68.65 L771.78,69.04 L772.49,69.45 L773.19,69.87 L773.89,70.29 L774.59,70.74 L775.29,71.20 L776.00,71.68 L776.70,72.18 L777.40,72.70 L778.10,73.23 L778.80,73.79 L779.51,74.37 L780.21,74.96 L780.91,75.57 L781.61,76.20 L782.31,76.86 L783.02,77.53 L783.72,78.22 L784.42,78.94 L785.12,79.71 L785.82,80.52 L786.53,81.37 L787.23,82.25 L787.93,83.16 L788.63,84.10 L789.33,85.08 L790.04,86.08 L790.74,87.11 L791.44,88.17 L792.14,89.29 L792.84,90.47 L793.55,91.70 L794.25,92.98 L794.95,94.29 L795.65,95.63 L796.35,96.99 L797.06,98.37 L797.76,99.76 L798.46,101.18 L799.16,102.64 L799.86,104.13 L800.57,105.65 L801.27,107.22 L801.97,108.82 L802.67,110.47 L803.37,112.16 L804.07,113.93 L804.78,115.78 L805.48,117.67 L806.18,119.59 L806.88,121.50 L807.58,123.40 L808.29,125.30 L808.99,127.25 L809.69,129.29 L810.39,131.38 L811.09,133.50 L811.80,135.67 L812.50,137.90 L813.20,140.19 L813.90,142.55 L814.60,144.98 L815.31,147.52 L816.01,150.17 L816.71,152.92 L817.41,155.75 L818.11,158.65 L818.82,161.58 L819.52,164.53 L820.22,167.49 L820.92,170.51 L821.62,173.58 L822.33,176.69 L823.03,179.84 L823.73,183.02 L824.43,186.23 L825.13,189.47 L825.84,192.75 L826.54,196.07 L827.24,199.42 L827.94,202.79 L828.64,206.20 L829.35,209.71 L830.05,213.29 L830.75,216.88 L831.45,220.40 L832.15,223.80 L832.86,227.04 L833.56,230.21 L834.26,233.31 L834.96,236.35 L835.66,239.35 L836.37,242.31 L837.07,245.24 L837.77,248.14 L838.47,250.97 L839.17,253.77 L839.88,256.54 L840.58,259.32 L841.28,262.12 L841.98,264.99 L842.68,267.88 L843.38,270.74 L844.09,273.51 L844.79,276.14 L845.49,278.63 L846.19,281.02 L846.89,283.34 L847.60,285.61 L848.30,287.86 L849.00,290.11 L849.70,292.40 L850.40,294.69 L851.11,296.91 L851.81,299.03 L852.51,300.99 L853.21,302.77 L853.91,304.40 L854.62,305.92 L855.32,307.36 L856.02,308.73 L856.72,310.04 L857.42,311.32 L858.13,312.59 L858.83,313.85 L859.53,315.07 L860.23,316.22 L860.93,317.30 L861.64,318.26 L862.34,319.10 L863.04,319.84 L863.74,320.52 L864.44,321.13 L865.15,321.68 L865.85,322.16 L866.55,322.58 L867.25,322.98 L867.95,323.35 L868.66,323.70 L869.36,324.00 L870.06,324.25 L870.76,324.45 L871.46,324.59 L872.17,324.73 L872.87,324.86 L873.57,324.99 L874.27,325.10 L874.97,325.20 L875.68,325.29 L876.38,325.37 L877.08,325.43 L877.78,325.47 L878.48,325.49 L879.19,325.50 L879.89,325.50 L880.59,325.50 L881.29,325.50 L881.99,325.50 L882.70,325.50 L883.40,325.50 L884.10,325.50 L884.80,325.50 L885.50,325.50 L886.20,325.50 L886.91,325.50 L887.61,325.50 L888.31,325.50 L889.01,325.50 L889.71,325.50 L890.42,325.50 L891.12,325.50 L891.82,325.50 L892.52,325.50 L893.22,325.50 L893.93,325.50 L894.63,325.50 L895.33,325.50 L896.03,325.50 L896.73,325.50 L897.44,325.50 L898.14,325.50 L898.84,325.50 L899.54,325.50 L900.24,325.50 L900.95,325.50 L901.65,325.50 L902.35,325.50 L903.05,325.50 L903.75,325.50 L904.46,325.50 L905.16,325.50 L905.86,325.50 L906.56,325.50 L907.26,325.50 L907.97,325.50 L908.67,325.50 L909.37,325.50 L910.07,325.50 L910.77,325.50 L911.48,325.50 L912.18,325.50 L912.88,325.50 L913.58,325.50 L914.28,325.50 L914.99,325.50 L915.69,325.50 L916.39,325.50 L917.09,325.50 L917.79,325.50 L918.50,325.50 L919.20,325.50 L919.90,325.50 L920.60,325.50 L921.30,325.50 L922.01,325.50 L922.71,325.50 L923.41,325.50 L924.11,325.50 L924.81,325.50 L925.52,325.50 L926.22,325.50 L926.92,325.50 L927.62,325.50 L928.32,325.50 L929.02,325.50 L929.73,325.50 L930.43,325.50 L931.13,325.50 L931.83,325.50 L932.53,325.50 L933.24,325.50 L933.94,325.50 L934.64,325.50 L935.34,325.50 L936.04,325.50 L936.75,325.50 L937.45,325.50 L938.15,325.50 L938.85,325.50 L939.55,325.50 L940.26,325.50 L940.96,325.50 L941.66,325.50 L942.36,325.50 L943.06,325.50 L943.77,325.50 L944.47,325.50 L945.17,325.50 L945.87,325.50 L946.57,325.50 L947.28,325.50 L947.98,325.50" fill="none" stroke="#00ff00" stroke-width="1.35" stroke-dasharray="11.7 3.9 1.95 3.9 1.95 3.9 1.95 3.9" stroke-dashoffset="-1.2"/>
<path d="M527.50,59.35 L528.20,59.35 L528.90,59.35 L529.61,59.35 L530.31,59.35 L531.01,59.35 L531.71,59.35 L532.41,59.35 L533.12,59.35 L533.82,59.35 L534.52,59.35 L535.22,59.35 L535.92,59.35 L536.63,59.35 L537.33,59.35 L538.03,59.35 L538.73,59.35 L539.43,59.35 L540.14,59.35 L540.84,59.35 L541.54,59.35 L542.24,59.35 L542.94,59.35 L543.65,59.35 L544.35,59.35 L545.05,59.35 L545.75,59.35 L546.45,59.35 L547.16,59.35 L547.86,59.35 L548.56,59.35 L549.26,59.35 L549.96,59.35 L550.66,59.35 L551.37,59.35 L552.07,59.35 L552.77,59.35 L553.47,59.35 L554.17,59.35 L554.88,59.35 L555.58,59.35 L556.28,59.35 L556.98,59.35 L557.68,59.35 L558.39,59.35 L559.09,59.35 L559.79,59.35 L560.49,59.35 L561.19,59.35 L561.90,59.35 L562.60,59.35 L563.30,59.35 L564.00,59.35 L564.70,59.35 L565.41,59.35 L566.11,59.35 L566.81,59.35 L567.51,59.35 L568.21,59.35 L568.92,59.35 L569.62,59.35 L570.32,59.35 L571.02,59.35 L571.72,59.35 L572.43,59.35 L573.13,59.35 L573.83,59.35 L574.53,59.35 L575.23,59.35 L575.94,59.35 L576.64,59.35 L577.34,59.35 L578.04,59.35 L578.74,59.35 L579.45,59.35 L580.15,59.35 L580.85,59.35 L581.55,59.35 L582.25,59.35 L582.96,59.35 L583.66,59.35 L584.36,59.35 L585.06,59.35 L585.76,59.35 L586.47,59.35 L587.17,59.35 L587.87,59.35 L588.57,59.35 L589.27,59.35 L589.98,59.35 L590.68,59.35 L591.38,59.35 L592.08,59.35 L592.78,59.35 L593.48,59.35 L594.19,59.35 L594.89,59.35 L595.59,59.35 L596.29,59.35 L596.99,59.35 L597.70,59.35 L598.40,59.35 L599.10,59.35 L599.80,59.35 L600.50,59.35 L601.21,59.35 L601.91,59.35 L602.61,59.36 L603.31,59.36 L604.01,59.36 L604.72,59.36 L605.42,59.36 L606.12,59.36 L606.82,59.36 L607.52,59.36 L608.23,59.36 L608.93,59.36 L609.63,59.36 L610.33,59.36 L611.03,59.36 L611.74,59.36 L612.44,59.36 L613.14,59.36 L613.84,59.36 L614.54,59.36 L615.25,59.36 L615.95,59.36 L616.65,59.36 L617.35,59.36 L618.05,59.36 L618.76,59.36 L619.46,59.36 L620.16,59.36 L620.86,59.36 L621.56,59.36 L622.27,59.36 L622.97,59.36 L623.67,59.36 L624.37,59.36 L625.07,59.36 L625.78,59.36 L626.48,59.36 L627.18,59.36 L627.88,59.36 L628.58,59.36 L629.29,59.36 L629.99,59.36 L630.69,59.36 L631.39,59.36 L632.09,59.36 L632.79,59.36 L633.50,59.36 L634.20,59.36 L634.90,59.36 L635.60,59.36 L636.30,59.36 L637.01,59.36 L637.71,59.36 L638.41,59.36 L639.11,59.36 L639.81,59.36 L640.52,59.36 L641.22,59.36 L641.92,59.36 L642.62,59.36 L643.32,59.36 L644.03,59.36 L644.73,59.37 L645.43,59.37 L646.13,59.37 L646.83,59.37 L647.54,59.37 L648.24,59.37 L648.94,59.37 L649.64,59.37 L650.34,59.37 L651.05,59.37 L651.75,59.37 L652.45,59.37 L653.15,59.37 L653.85,59.37 L654.56,59.37 L655.26,59.37 L655.96,59.37 L656.66,59.37 L657.36,59.37 L658.07,59.37 L658.77,59.37 L659.47,59.37 L660.17,59.37 L660.87,59.37 L661.58,59.37 L662.28,59.37 L662.98,59.37 L663.68,59.37 L664.38,59.37 L665.09,59.37 L665.79,59.37 L666.49,59.37 L667.19,59.37 L667.89,59.37 L668.60,59.37 L669.30,59.37 L670.00,59.38 L670.70,59.38 L671.40,59.38 L672.11,59.38 L672.81,59.38 L673.51,59.38 L674.21,59.38 L674.91,59.38 L675.61,59.38 L676.32,59.38 L677.02,59.38 L677.72,59.38 L678.42,59.38 L679.12,59.38 L679.83,59.38 L680.53,59.38 L681.23,59.38 L681.93,59.38 L682.63,59.38 L683.34,59.38 L684.04,59.38 L684.74,59.38 L685.44,59.38 L686.14,59.38 L686.85,59.38 L687.55,59.38 L688.25,59.38 L688.95,59.38 L689.65,59.39 L690.36,59.39 L691.06,59.39 L691.76,59.39 L692.46,59.39 L693.16,59.39 L693.87,59.39 L694.57,59.39 L695.27,59.39 L695.97,59.39 L696.67,59.39 L697.38,59.39 L698.08,59.39 L698.78,59.39 L699.48,59.39 L700.18,59.39 L700.89,59.39 L701.59,59.39 L702.29,59.39 L702.99,59.39 L703.69,59.39 L704.40,59.39 L705.10,59.39 L705.80,59.40 L706.50,59.40 L707.20,59.40 L707.91,59.40 L708.61,59.40 L709.31,59.40 L710.01,59.40 L710.71,59.40 L711.42,59.40 L712.12,59.40 L712.82,59.40 L713.52,59.40 L714.22,59.40 L714.93,59.40 L715.63,59.40 L716.33,59.40 L717.03,59.40 L717.73,59.40 L718.43,59.40 L719.14,59.40 L719.84,59.41 L720.54,59.41 L721.24,59.41 L721.94,59.41 L722.65,59.41 L723.35,59.41 L724.05,59.41 L724.75,59.41 L725.45,59.41 L726.16,59.41 L726.86,59.41 L727.56,59.41 L728.26,59.41 L728.96,59.41 L729.67,59.41 L730.37,59.41 L731.07,59.41 L731.77,59.41 L732.47,59.42 L733.18,59.42 L733.88,59.42 L734.58,59.42 L735.28,59.42 L735.98,59.42 L736.69,59.42 L737.39,59.42 L738.09,59.42 L738.79,59.42 L739.49,59.42 L740.20,59.42 L740.90,59.42 L741.60,59.42 L742.30,59.42 L743.00,59.42 L743.71,59.43 L744.41,59.43 L745.11,59.43 L745.81,59.43 L746.51,59.43 L747.22,59.43 L747.92,59.43 L748.62,59.43 L749.32,59.43 L750.02,59.43 L750.73,59.43 L751.43,59.43 L752.13,59.43 L752.83,59.43 L753.53,59.44 L754.24,59.44 L754.94,59.44 L755.64,59.44 L756.34,59.44 L757.04,59.44 L757.75,59.44 L758.45,59.44 L759.15,59.44 L759.85,59.44 L760.55,59.44 L761.25,59.44 L761.96,59.44 L762.66,59.44 L763.36,59.45 L764.06,59.45 L764.76,59.45 L765.47,59.45 L766.17,59.45 L766.87,59.46 L767.57,59.47 L768.27,59.48 L768.98,59.49 L769.68,59.50 L770.38,59.52 L771.08,59.54 L771.78,59.56 L772.49,59.58 L773.19,59.60 L773.89,59.62 L774.59,59.65 L775.29,59.67 L776.00,59.70 L776.70,59.72 L777.40,59.75 L778.10,59.78 L778.80,59.80 L779.51,59.83 L780.21,59.86 L780.91,59.89 L781.61,59.92 L782.31,59.94 L783.02,59.97 L783.72,60.00 L784.42,60.02 L785.12,60.05 L785.82,60.07 L786.53,60.10 L787.23,60.12 L787.93,60.14 L788.63,60.17 L789.33,60.19 L790.04,60.21 L790.74,60.23 L791.44,60.25 L792.14,60.28 L792.84,60.30 L793.55,60.32 L794.25,60.34 L794.95,60.37 L795.65,60.39 L796.35,60.41 L797.06,60.43 L797.76,60.46 L798.46,60.48 L799.16,60.51 L799.86,60.53 L800.57,60.56 L801.27,60.59 L801.97,60.61 L802.67,60.64 L803.37,60.67 L804.07,60.70 L804.78,60.73 L805.48,60.76 L806.18,60.79 L806.88,60.83 L807.58,60.86 L808.29,60.90 L808.99,60.94 L809.69,60.98 L810.39,61.02 L811.09,61.06 L811.80,61.10 L812.50,61.15 L813.20,61.20 L813.90,61.26 L814.60,61.32 L815.31,61.38 L816.01,61.45 L816.71,61.52 L817.41,61.59 L818.11,61.67 L818.82,61.75 L819.52,61.83 L820.22,61.92 L820.92,62.01 L821.62,62.10 L822.33,62.19 L823.03,62.28 L823.73,62.38 L824.43,62.48 L825.13,62.58 L825.84,62.68 L826.54,62.79 L827.24,62.89 L827.94,63.00 L828.64,63.11 L829.35,63.22 L830.05,63.33 L830.75,63.45 L831.45,63.56 L832.15,63.68 L832.86,63.80 L833.56,63.93 L834.26,64.06 L834.96,64.20 L835.66,64.34 L836.37,64.49 L837.07,64.64 L837.77,64.79 L838.47,64.95 L839.17,65.11 L839.88,65.28 L840.58,65.45 L841.28,65.62 L841.98,65.80 L842.68,65.98 L843.38,66.17 L844.09,66.36 L844.79,66.55 L845.49,66.74 L846.19,66.94 L846.89,67.15 L847.60,67.35 L848.30,67.56 L849.00,67.77 L849.70,68.00 L850.40,68.23 L851.11,68.47 L851.81,68.71 L852.51,68.97 L853.21,69.23 L853.91,69.50 L854.62,69.77 L855.32,70.05 L856.02,70.34 L856.72,70.64 L857.42,70.94 L858.13,71.24 L858.83,71.56 L859.53,71.87 L860.23,72.19 L860.93,72.52 L861.64,72.85 L862.34,73.19 L863.04,73.53 L863.74,73.87 L864.44,74.22 L865.15,74.58 L865.85,74.94 L866.55,75.32 L867.25,75.70 L867.95,76.10 L868.66,76.50 L869.36,76.91 L870.06,77.33 L870.76,77.76 L871.46,78.20 L872.17,78.64 L872.87,79.10 L873.57,79.57 L874.27,80.04 L874.97,80.52 L875.68,81.02 L876.38,81.52 L877.08,82.04 L877.78,82.57 L878.48,83.12 L879.19,83.69 L879.89,84.26 L880.59,84.86 L881.29,85.47 L881.99,86.10 L882.70,86.74 L883.40,87.40 L884.10,88.08 L884.80,88.77 L885.50,89.48 L886.20,90.22 L886.91,90.98 L887.61,91.78 L888.31,92.60 L889.01,93.46 L889.71,94.35 L890.42,95.25 L891.12,96.18 L891.82,97.13 L892.52,98.10 L893.22,99.08 L893.93,100.07 L894.63,101.08 L895.33,102.09 L896.03,103.13 L896.73,104.19 L897.44,105.28 L898.14,106.40 L898.84,107.54 L899.54,108.72 L900.24,109.92 L900.95,111.15 L901.65,112.43 L902.35,113.75 L903.05,115.12 L903.75,116.53 L904.46,117.98 L905.16,119.45 L905.86,120.95 L906.56,122.48 L907.26,124.08 L907.97,125.72 L908.67,127.41 L909.37,129.13 L910.07,130.90 L910.77,132.69 L911.48,134.51 L912.18,136.34 L912.88,138.18 L913.58,140.00 L914.28,141.81 L914.99,143.60 L915.69,145.36 L916.39,147.11 L917.09,148.85 L917.79,150.58 L918.50,152.32 L919.20,154.05 L919.90,155.80 L920.60,157.56 L921.30,159.33 L922.01,161.12 L922.71,162.93 L923.41,164.76 L924.11,166.60 L924.81,168.45 L925.52,170.31 L926.22,172.19 L926.92,174.07 L927.62,175.96 L928.32,177.86 L929.02,179.77 L929.73,181.69 L930.43,183.60 L931.13,185.52 L931.83,187.43 L932.53,189.36 L933.24,191.31 L933.94,193.27 L934.64,195.27 L935.34,197.31 L936.04,199.38 L936.75,201.52 L937.45,203.70 L938.15,205.93 L938.85,208.20 L939.55,210.49 L940.26,212.79 L940.96,215.10 L941.66,217.40 L942.36,219.69 L943.06,221.96 L943.77,224.22 L944.47,226.49 L945.17,228.72 L945.87,230.91 L946.57,233.09 L947.28,235.21 L947.98,237.19" fill="none" stroke="#ff0000" stroke-width="1.35" stroke-dasharray="15.6 7.8" stroke-dashoffset="-4.0"/>
<path d="M527.50,59.35 L528.20,59.35 L528.90,59.35 L529.61,59.35 L530.31,59.35 L531.01,59.35 L531.71,59.35 L532.41,59.35 L533.12,59.35 L533.82,59.35 L534.52,59.35 L535.22,59.35 L535.92,59.35 L536.63,59.35 L537.33,59.35 L538.03,59.35 L538.73,59.35 L539.43,59.35 L540.14,59.35 L540.84,59.35 L541.54,59.35 L542.24,59.35 L542.94,59.35 L543.65,59.35 L544.35,59.35 L545.05,59.35 L545.75,59.35 L546.45,59.35 L547.16,59.35 L547.86,59.35 L548.56,59.35 L549.26,59.35 L549.96,59.35 L550.66,59.35 L551.37,59.35 L552.07,59.35 L552.77,59.35 L553.47,59.35 L554.17,59.35 L554.88,59.35 L555.58,59.35 L556.28,59.35 L556.98,59.35 L557.68,59.35 L558.39,59.35 L559.09,59.35 L559.79,59.35 L560.49,59.35 L561.19,59.35 L561.90,59.35 L562.60,59.35 L563.30,59.35 L564.00,59.35 L564.70,59.35 L565.41,59.35 L566.11,59.35 L566.81,59.35 L567.51,59.35 L568.21,59.35 L568.92,59.35 L569.62,59.35 L570.32,59.35 L571.02,59.35 L571.72,59.35 L572.43,59.35 L573.13,59.35 L573.83,59.35 L574.53,59.35 L575.23,59.35 L575.94,59.35 L576.64,59.35 L577.34,59.35 L578.04,59.35 L578.74,59.35 L579.45,59.35 L580.15,59.35 L580.85,59.35 L581.55,59.35 L582.25,59.35 L582.96,59.35 L583.66,59.35 L584.36,59.35 L585.06,59.35 L585.76,59.35 L586.47,59.35 L587.17,59.35 L587.87,59.35 L588.57,59.35 L589.27,59.35 L589.98,59.35 L590.68,59.35 L591.38,59.35 L592.08,59.35 L592.78,59.35 L593.48,59.35 L594.19,59.35 L594.89,59.35 L595.59,59.35 L596.29,59.35 L596.99,59.35 L597.70,59.35 L598.40,59.35 L599.10,59.35 L599.80,59.35 L600.50,59.35 L601.21,59.35 L601.91,59.35 L602.61,59.35 L603.31,59.35 L604.01,59.35 L604.72,59.35 L605.42,59.35 L606.12,59.35 L606.82,59.35 L607.52,59.35 L608.23,59.35 L608.93,59.35 L609.63,59.35 L610.33,59.36 L611.03,59.36 L611.74,59.36 L612.44,59.36 L613.14,59.36 L613.84,59.36 L614.54,59.36 L615.25,59.36 L615.95,59.36 L616.65,59.36 L617.35,59.36 L618.05,59.36 L618.76,59.36 L619.46,59.36 L620.16,59.36 L620.86,59.36 L621.56,59.36 L622.27,59.36 L622.97,59.36 L623.67,59.36 L624.37,59.36 L625.07,59.36 L625.78,59.36 L626.48,59.36 L627.18,59.36 L627.88,59.36 L628.58,59.36 L629.29,59.36 L629.99,59.36 L630.69,59.36 L631.39,59.36 L632.09,59.36 L632.79,59.36 L633.50,59.36 L634.20,59.36 L634.90,59.36 L635.60,59.36 L636.30,59.36 L637.01,59.36 L637.71,59.36 L638.41,59.36 L639.11,59.36 L639.81,59.36 L640.52,59.36 L641.22,59.36 L641.92,59.36 L642.62,59.36 L643.32,59.36 L644.03,59.36 L644.73,59.36 L645.43,59.36 L646.13,59.36 L646.83,59.36 L647.54,59.36 L648.24,59.36 L648.94,59.36 L649.64,59.36 L650.34,59.36 L651.05,59.36 L651.75,59.36 L652.45,59.36 L653.15,59.36 L653.85,59.36 L654.56,59.36 L655.26,59.36 L655.96,59.37 L656.66,59.37 L657.36,59.37 L658.07,59.37 L658.77,59.37 L659.47,59.37 L660.17,59.37 L660.87,59.37 L661.58,59.37 L662.28,59.37 L662.98,59.37 L663.68,59.37 L664.38,59.37 L665.09,59.37 L665.79,59.37 L666.49,59.37 L667.19,59.37 L667.89,59.37 L668.60,59.37 L669.30,59.37 L670.00,59.37 L670.70,59.37 L671.40,59.37 L672.11,59.37 L672.81,59.37 L673.51,59.37 L674.21,59.37 L674.91,59.37 L675.61,59.37 L676.32,59.37 L677.02,59.37 L677.72,59.37 L678.42,59.37 L679.12,59.37 L679.83,59.37 L680.53,59.37 L681.23,59.37 L681.93,59.37 L682.63,59.37 L683.34,59.37 L684.04,59.37 L684.74,59.38 L685.44,59.38 L686.14,59.38 L686.85,59.38 L687.55,59.38 L688.25,59.38 L688.95,59.38 L689.65,59.38 L690.36,59.38 L691.06,59.38 L691.76,59.38 L692.46,59.38 L693.16,59.38 L693.87,59.38 L694.57,59.38 L695.27,59.38 L695.97,59.38 L696.67,59.38 L697.38,59.38 L698.08,59.38 L698.78,59.38 L699.48,59.38 L700.18,59.38 L700.89,59.38 L701.59,59.38 L702.29,59.38 L702.99,59.38 L703.69,59.38 L704.40,59.38 L705.10,59.38 L705.80,59.38 L706.50,59.39 L707.20,59.39 L707.91,59.39 L708.61,59.39 L709.31,59.39 L710.01,59.39 L710.71,59.39 L711.42,59.39 L712.12,59.39 L712.82,59.39 L713.52,59.39 L714.22,59.39 L714.93,59.39 L715.63,59.39 L716.33,59.39 L717.03,59.39 L717.73,59.39 L718.43,59.39 L719.14,59.39 L719.84,59.39 L720.54,59.39 L721.24,59.39 L721.94,59.39 L722.65,59.39 L723.35,59.39 L724.05,59.40 L724.75,59.40 L725.45,59.40 L726.16,59.40 L726.86,59.40 L727.56,59.40 L728.26,59.40 L728.96,59.40 L729.67,59.40 L730.37,59.40 L731.07,59.40 L731.77,59.40 L732.47,59.40 L733.18,59.40 L733.88,59.40 L734.58,59.40 L735.28,59.40 L735.98,59.40 L736.69,59.40 L737.39,59.40 L738.09,59.40 L738.79,59.40 L739.49,59.40 L740.20,59.41 L740.90,59.41 L741.60,59.41 L742.30,59.41 L743.00,59.41 L743.71,59.41 L744.41,59.41 L745.11,59.41 L745.81,59.41 L746.51,59.41 L747.22,59.41 L747.92,59.41 L748.62,59.41 L749.32,59.41 L750.02,59.41 L750.73,59.41 L751.43,59.41 L752.13,59.41 L752.83,59.41 L753.53,59.42 L754.24,59.42 L754.94,59.42 L755.64,59.42 L756.34,59.42 L757.04,59.42 L757.75,59.42 L758.45,59.42 L759.15,59.42 L759.85,59.42 L760.55,59.42 L761.25,59.42 L761.96,59.42 L762.66,59.42 L763.36,59.42 L764.06,59.42 L764.76,59.42 L765.47,59.42 L766.17,59.43 L766.87,59.43 L767.57,59.43 L768.27,59.43 L768.98,59.43 L769.68,59.43 L770.38,59.43 L771.08,59.43 L771.78,59.43 L772.49,59.43 L773.19,59.43 L773.89,59.43 L774.59,59.43 L775.29,59.43 L776.00,59.43 L776.70,59.43 L777.40,59.44 L778.10,59.44 L778.80,59.44 L779.51,59.44 L780.21,59.44 L780.91,59.44 L781.61,59.44 L782.31,59.44 L783.02,59.44 L783.72,59.44 L784.42,59.44 L785.12,59.44 L785.82,59.44 L786.53,59.44 L787.23,59.44 L787.93,59.45 L788.63,59.45 L789.33,59.45 L790.04,59.45 L790.74,59.45 L791.44,59.45 L792.14,59.46 L792.84,59.46 L793.55,59.47 L794.25,59.48 L794.95,59.48 L795.65,59.49 L796.35,59.51 L797.06,59.52 L797.76,59.53 L798.46,59.54 L799.16,59.56 L799.86,59.57 L800.57,59.59 L801.27,59.60 L801.97,59.62 L802.67,59.64 L803.37,59.65 L804.07,59.67 L804.78,59.69 L805.48,59.70 L806.18,59.72 L806.88,59.74 L807.58,59.76 L808.29,59.77 L808.99,59.79 L809.69,59.81 L810.39,59.82 L811.09,59.84 L811.80,59.85 L812.50,59.87 L813.20,59.89 L813.90,59.90 L814.60,59.92 L815.31,59.94 L816.01,59.95 L816.71,59.97 L817.41,59.99 L818.11,60.00 L818.82,60.02 L819.52,60.04 L820.22,60.06 L820.92,60.08 L821.62,60.10 L822.33,60.11 L823.03,60.13 L823.73,60.15 L824.43,60.17 L825.13,60.19 L825.84,60.21 L826.54,60.24 L827.24,60.26 L827.94,60.28 L828.64,60.30 L829.35,60.32 L830.05,60.35 L830.75,60.37 L831.45,60.40 L832.15,60.42 L832.86,60.45 L833.56,60.47 L834.26,60.50 L834.96,60.53 L835.66,60.55 L836.37,60.58 L837.07,60.61 L837.77,60.64 L838.47,60.67 L839.17,60.71 L839.88,60.74 L840.58,60.77 L841.28,60.81 L841.98,60.85 L842.68,60.89 L843.38,60.92 L844.09,60.96 L844.79,61.01 L845.49,61.05 L846.19,61.09 L846.89,61.13 L847.60,61.18 L848.30,61.23 L849.00,61.27 L849.70,61.32 L850.40,61.37 L851.11,61.42 L851.81,61.47 L852.51,61.52 L853.21,61.57 L853.91,61.62 L854.62,61.68 L855.32,61.73 L856.02,61.78 L856.72,61.84 L857.42,61.90 L858.13,61.96 L858.83,62.02 L859.53,62.08 L860.23,62.14 L860.93,62.21 L861.64,62.28 L862.34,62.35 L863.04,62.42 L863.74,62.49 L864.44,62.56 L865.15,62.64 L865.85,62.71 L866.55,62.79 L867.25,62.87 L867.95,62.95 L868.66,63.03 L869.36,63.12 L870.06,63.20 L870.76,63.29 L871.46,63.38 L872.17,63.47 L872.87,63.56 L873.57,63.65 L874.27,63.74 L874.97,63.83 L875.68,63.93 L876.38,64.02 L877.08,64.12 L877.78,64.23 L878.48,64.33 L879.19,64.44 L879.89,64.55 L880.59,64.66 L881.29,64.78 L881.99,64.90 L882.70,65.02 L883.40,65.14 L884.10,65.27 L884.80,65.39 L885.50,65.52 L886.20,65.65 L886.91,65.78 L887.61,65.92 L888.31,66.06 L889.01,66.19 L889.71,66.33 L890.42,66.47 L891.12,66.61 L891.82,66.76 L892.52,66.90 L893.22,67.04 L893.93,67.19 L894.63,67.33 L895.33,67.48 L896.03,67.63 L896.73,67.78 L897.44,67.93 L898.14,68.08 L898.84,68.23 L899.54,68.39 L900.24,68.55 L900.95,68.71 L901.65,68.87 L902.35,69.04 L903.05,69.20 L903.75,69.37 L904.46,69.55 L905.16,69.72 L905.86,69.90 L906.56,70.08 L907.26,70.26 L907.97,70.44 L908.67,70.63 L909.37,70.82 L910.07,71.01 L910.77,71.21 L911.48,71.40 L912.18,71.61 L912.88,71.81 L913.58,72.02 L914.28,72.23 L914.99,72.44 L915.69,72.66 L916.39,72.88 L917.09,73.10 L917.79,73.33 L918.50,73.56 L919.20,73.79 L919.90,74.03 L920.60,74.27 L921.30,74.52 L922.01,74.76 L922.71,75.02 L923.41,75.27 L924.11,75.53 L924.81,75.80 L925.52,76.06 L926.22,76.33 L926.92,76.61 L927.62,76.90 L928.32,77.18 L929.02,77.48 L929.73,77.78 L930.43,78.09 L931.13,78.40 L931.83,78.72 L932.53,79.05 L933.24,79.38 L933.94,79.71 L934.64,80.05 L935.34,80.39 L936.04,80.74 L936.75,81.10 L937.45,81.46 L938.15,81.82 L938.85,82.19 L939.55,82.57 L940.26,82.96 L940.96,83.36 L941.66,83.78 L942.36,84.20 L943.06,84.63 L943.77,85.06 L944.47,85.49 L945.17,85.93 L945.87,86.36 L946.57,86.79 L947.28,87.22 L947.98,87.65" fill="none" stroke="#000000" stroke-width="1.35"/>
<g style="opacity:0.999">
<text transform="translate(98.30,326.80) scale(1.06,1)" text-anchor="end" font-size="17.8" class="n">0.0</text>
<text transform="translate(98.30,279.57) scale(1.06,1)" text-anchor="end" font-size="17.8" class="n">0.2</text>
<text transform="translate(98.30,226.34) scale(1.06,1)" text-anchor="end" font-size="17.8" class="n">0.4</text>
<text transform="translate(98.30,173.11) scale(1.06,1)" text-anchor="end" font-size="17.8" class="n">0.6</text>
<text transform="translate(98.30,119.88) scale(1.06,1)" text-anchor="end" font-size="17.8" class="n">0.8</text>
<text transform="translate(98.30,66.65) scale(1.06,1)" text-anchor="end" font-size="17.8" class="n">1.0</text>
<text transform="translate(104.35,351.10) scale(1.06,1)" text-anchor="middle" font-size="17.8" class="n">0.0</text>
<text transform="translate(160.70,351.10) scale(1.06,1)" text-anchor="middle" font-size="17.8" class="n">0.2</text>
<text transform="translate(217.06,351.10) scale(1.06,1)" text-anchor="middle" font-size="17.8" class="n">0.4</text>
<text transform="translate(273.41,351.10) scale(1.06,1)" text-anchor="middle" font-size="17.8" class="n">0.6</text>
<text transform="translate(329.76,351.10) scale(1.06,1)" text-anchor="middle" font-size="17.8" class="n">0.8</text>
<text transform="translate(386.12,351.10) scale(1.06,1)" text-anchor="middle" font-size="17.8" class="n">1.0</text>
<text transform="translate(442.47,351.10) scale(1.06,1)" text-anchor="middle" font-size="17.8" class="n">1.2</text>
<text transform="translate(498.82,351.10) scale(1.06,1)" text-anchor="middle" font-size="17.8" class="n">1.4</text>
<g transform="translate(0,0)" fill="none" stroke="#000" stroke-linecap="round" stroke-linejoin="round"><path d="M312.2,366.6 C312.8,365.3 313.7,364.6 314.9,364.6 C316.3,364.6 317.3,365.8 318.5,365.6 C319.3,365.5 319.8,365.1 320.1,364.5" stroke-width="1.6"/><path d="M320.1,364.5 L312.2,371.6" stroke-width="1.15"/><path d="M312.2,371.6 C312.8,370.8 313.6,370.4 314.5,370.6 C315.9,370.9 316.8,372.4 318.1,372.3 C318.9,372.2 319.4,371.5 319.6,370.4" stroke-width="1.6"/></g>
<text transform="translate(527.00,351.10) scale(1.06,1)" text-anchor="middle" font-size="17.8" class="n">0.0</text>
<text transform="translate(583.44,351.10) scale(1.06,1)" text-anchor="middle" font-size="17.8" class="n">0.2</text>
<text transform="translate(639.88,351.10) scale(1.06,1)" text-anchor="middle" font-size="17.8" class="n">0.4</text>
<text transform="translate(696.32,351.10) scale(1.06,1)" text-anchor="middle" font-size="17.8" class="n">0.6</text>
<text transform="translate(752.76,351.10) scale(1.06,1)" text-anchor="middle" font-size="17.8" class="n">0.8</text>
<text transform="translate(809.20,351.10) scale(1.06,1)" text-anchor="middle" font-size="17.8" class="n">1.0</text>
<text transform="translate(865.64,351.10) scale(1.06,1)" text-anchor="middle" font-size="17.8" class="n">1.2</text>
<text transform="translate(922.08,351.10) scale(1.06,1)" text-anchor="middle" font-size="17.8" class="n">1.4</text>
<g transform="translate(423,0)" fill="none" stroke="#000" stroke-linecap="round" stroke-linejoin="round"><path d="M312.2,366.6 C312.8,365.3 313.7,364.6 314.9,364.6 C316.3,364.6 317.3,365.8 318.5,365.6 C319.3,365.5 319.8,365.1 320.1,364.5" stroke-width="1.6"/><path d="M320.1,364.5 L312.2,371.6" stroke-width="1.15"/><path d="M312.2,371.6 C312.8,370.8 313.6,370.4 314.5,370.6 C315.9,370.9 316.8,372.4 318.1,372.3 C318.9,372.2 319.4,371.5 319.6,370.4" stroke-width="1.6"/></g>
<text transform="translate(315.78,22.70) scale(1.1,1)" text-anchor="middle" font-size="23.5" letter-spacing="1.33">Voronoi Tessellations</text>
<text transform="translate(738.95,22.70) scale(1.1,1)" text-anchor="middle" font-size="23.5" letter-spacing="1.2">Friends&#8722;Of&#8722;Friends</text>
<text transform="translate(57.6,179.3) rotate(-90) scale(1.1,1)" text-anchor="middle" font-size="19" letter-spacing="0.7">Completeness</text>
</g>
</svg>
</body></html>
